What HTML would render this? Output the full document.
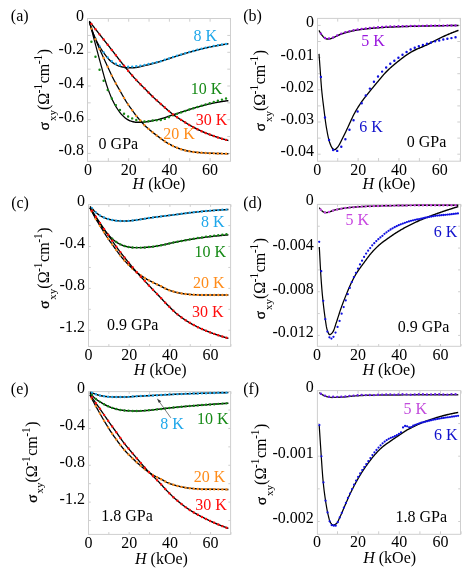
<!DOCTYPE html>
<html lang="en">
<head>
<meta charset="utf-8">
<title>Hall conductivity vs field at several pressures</title>
<style>
html,body{margin:0;padding:0;background:#fff;}
body{width:463px;height:571px;overflow:hidden;}
svg{display:block;will-change:transform;}
</style>
</head>
<body>
<svg width="463" height="571" viewBox="0 0 463 571" font-family="'Liberation Serif', 'DejaVu Serif', serif" font-size="16">
<rect x="87.5" y="18.5" width="143" height="142.8" fill="none" stroke="#cfcfcf" stroke-width="1"/>
<path d="M108.35 161.3v-3.2 M108.35 18.5v3.2M128.7 161.3v-3.2 M128.7 18.5v3.2M149.05 161.3v-3.2 M149.05 18.5v3.2M169.4 161.3v-3.2 M169.4 18.5v3.2M189.75 161.3v-3.2 M189.75 18.5v3.2M210.1 161.3v-3.2 M210.1 18.5v3.2M230.45 161.3v-3.2 M230.45 18.5v3.2M87.5 35.45h3.2 M230.5 35.45h-3.2M87.5 52.3h3.2 M230.5 52.3h-3.2M87.5 69.15h3.2 M230.5 69.15h-3.2M87.5 86h3.2 M230.5 86h-3.2M87.5 102.85h3.2 M230.5 102.85h-3.2M87.5 119.7h3.2 M230.5 119.7h-3.2M87.5 136.55h3.2 M230.5 136.55h-3.2M87.5 153.4h3.2 M230.5 153.4h-3.2" fill="none" stroke="#cfcfcf" stroke-width="1"/>
<text x="88" y="175" fill="#000" font-size="16" text-anchor="middle">0</text>
<text x="128.7" y="175" fill="#000" font-size="16" text-anchor="middle">20</text>
<text x="169.4" y="175" fill="#000" font-size="16" text-anchor="middle">40</text>
<text x="210.1" y="175" fill="#000" font-size="16" text-anchor="middle">60</text>
<text x="83.9" y="20.9" fill="#000" font-size="16" text-anchor="end">0</text>
<text x="83.9" y="54.2" fill="#000" font-size="16" text-anchor="end">-0.2</text>
<text x="83.9" y="87.9" fill="#000" font-size="16" text-anchor="end">-0.4</text>
<text x="83.9" y="121.6" fill="#000" font-size="16" text-anchor="end">-0.6</text>
<text x="83.9" y="155.3" fill="#000" font-size="16" text-anchor="end">-0.8</text>
<text x="159" y="188.8" fill="#000" font-size="16" text-anchor="middle"><tspan font-style="italic">H</tspan> (kOe)</text>
<text transform="translate(48.9 89.5) rotate(-90)" font-size="16" text-anchor="middle" fill="#000"><tspan font-size="15" stroke="#000" stroke-width="0.35">σ</tspan><tspan font-size="11" dy="6.9" dx="1.0">xy</tspan><tspan dy="-6.9">(Ω</tspan><tspan font-size="11.5" dy="-6.6" dx="-0.5">-1</tspan><tspan dy="6.6" dx="0.5">cm</tspan><tspan font-size="11.5" dy="-6.6" dx="-0.5">-1</tspan><tspan dy="6.6" dx="0.5">)</tspan></text>
<path transform="scale(0.84 1)" d="M106.43 21.8 L107.02 23.49 L107.62 25.13 L108.21 26.7 L108.81 28.2 L109.4 29.63 L110 31.04 L110.6 32.4 L111.19 33.73 L111.79 35.02 L112.38 36.25 L112.98 37.44 L113.57 38.58 L114.17 39.66 L114.76 40.71 L115.36 41.71 L115.95 42.68 L116.55 43.62 L117.14 44.52 L117.74 45.41 L118.33 46.26 L118.93 47.1 L119.52 47.9 L120.12 48.68 L120.71 49.44 L121.31 50.18 L121.9 50.9 L122.5 51.61 L123.1 52.32 L123.69 53.02 L124.29 53.72 L124.88 54.42 L125.48 55.1 L126.07 55.77 L126.67 56.42 L127.26 57.05 L127.86 57.65 L128.45 58.23 L129.05 58.79 L129.64 59.35 L130.24 59.89 L130.83 60.41 L131.43 60.91 L132.02 61.36 L132.62 61.78 L133.21 62.14 L133.81 62.5 L134.4 62.84 L135 63.17 L135.6 63.5 L136.19 63.81 L136.79 64.11 L137.38 64.4 L137.98 64.68 L138.57 64.94 L139.17 65.19 L139.76 65.42 L140.36 65.64 L140.95 65.84 L141.55 66.02 L142.14 66.18 L142.74 66.33 L143.33 66.46 L143.93 66.6 L144.52 66.74 L145.12 66.87 L145.71 66.99 L146.31 67.12 L146.9 67.23 L147.5 67.34 L148.1 67.44 L148.69 67.53 L149.29 67.61 L149.88 67.67 L150.48 67.73 L151.07 67.77 L151.67 67.79 L152.26 67.8 L152.86 67.8 L153.45 67.8 L154.05 67.79 L154.64 67.79 L155.24 67.78 L155.83 67.77 L156.43 67.76 L157.02 67.75 L157.62 67.74 L158.21 67.73 L158.81 67.72 L159.4 67.7 L160 67.68 L160.6 67.65 L161.19 67.61 L161.79 67.55 L162.38 67.48 L162.98 67.4 L163.57 67.31 L164.17 67.21 L164.76 67.11 L165.36 66.99 L165.95 66.88 L166.55 66.76 L167.14 66.63 L167.74 66.5 L168.33 66.37 L168.93 66.24 L169.52 66.11 L170.12 65.98 L170.71 65.86 L171.31 65.73 L171.9 65.61 L172.5 65.5 L173.1 65.39 L173.69 65.27 L174.29 65.16 L174.88 65.04 L175.48 64.92 L176.07 64.8 L176.67 64.68 L177.26 64.55 L177.86 64.43 L178.45 64.3 L179.05 64.17 L179.64 64.05 L180.24 63.92 L180.83 63.79 L181.43 63.66 L182.02 63.53 L182.62 63.4 L183.21 63.26 L183.81 63.13 L184.4 63 L185 62.86 L185.6 62.73 L186.19 62.59 L186.79 62.45 L187.38 62.31 L187.98 62.17 L188.57 62.02 L189.17 61.88 L189.76 61.73 L190.36 61.58 L190.95 61.43 L191.55 61.27 L192.14 61.12 L192.74 60.96 L193.33 60.8 L193.93 60.63 L194.52 60.47 L195.12 60.3 L195.71 60.14 L196.31 59.97 L196.9 59.8 L197.5 59.63 L198.1 59.46 L198.69 59.29 L199.29 59.12 L199.88 58.96 L200.48 58.79 L201.07 58.62 L201.67 58.45 L202.26 58.28 L202.86 58.12 L203.45 57.95 L204.05 57.79 L204.64 57.63 L205.24 57.47 L205.83 57.31 L206.43 57.15 L207.02 56.99 L207.62 56.83 L208.21 56.67 L208.81 56.51 L209.4 56.35 L210 56.19 L210.6 56.03 L211.19 55.88 L211.79 55.72 L212.38 55.56 L212.98 55.4 L213.57 55.24 L214.17 55.09 L214.76 54.93 L215.36 54.77 L215.95 54.62 L216.55 54.46 L217.14 54.31 L217.74 54.15 L218.33 54 L218.93 53.85 L219.52 53.7 L220.12 53.54 L220.71 53.39 L221.31 53.24 L221.9 53.1 L222.5 52.95 L223.1 52.8 L223.69 52.66 L224.29 52.51 L224.88 52.37 L225.48 52.23 L226.07 52.09 L226.67 51.95 L227.26 51.81 L227.86 51.67 L228.45 51.53 L229.05 51.39 L229.64 51.25 L230.24 51.11 L230.83 50.97 L231.43 50.83 L232.02 50.7 L232.62 50.56 L233.21 50.42 L233.81 50.29 L234.4 50.15 L235 50.02 L235.6 49.89 L236.19 49.75 L236.79 49.62 L237.38 49.49 L237.98 49.36 L238.57 49.24 L239.17 49.11 L239.76 48.98 L240.36 48.86 L240.95 48.73 L241.55 48.61 L242.14 48.49 L242.74 48.37 L243.33 48.25 L243.93 48.13 L244.52 48.02 L245.12 47.9 L245.71 47.79 L246.31 47.68 L246.9 47.57 L247.5 47.46 L248.1 47.35 L248.69 47.24 L249.29 47.14 L249.88 47.03 L250.48 46.93 L251.07 46.83 L251.67 46.72 L252.26 46.62 L252.86 46.52 L253.45 46.42 L254.05 46.32 L254.64 46.23 L255.24 46.13 L255.83 46.04 L256.43 45.94 L257.02 45.85 L257.62 45.75 L258.21 45.66 L258.81 45.57 L259.4 45.48 L260 45.39 L260.6 45.3 L261.19 45.21 L261.79 45.12 L262.38 45.03 L262.98 44.95 L263.57 44.86 L264.17 44.78 L264.76 44.69 L265.36 44.61 L265.95 44.53 L266.55 44.45 L267.14 44.37 L267.74 44.29 L268.33 44.21 L268.93 44.13 L269.52 44.06 L270.12 43.98 L270.71 43.91 L271.31 43.83 L271.9 43.76" fill="none" stroke="#000" stroke-width="1.45" stroke-linejoin="round" stroke-linecap="butt"/>
<path d="M91.4 28.2h0M95.48 38.76h0M99.56 46.53h0M103.64 52.35h0M107.72 57.42h0M111.8 61.27h0M115.88 63.66h0M119.96 65.25h0M124.04 66.33h0M128.12 66.8h0M132.2 66.62h0M136.28 66.25h0M140.36 65.68h0M144.44 64.89h0M148.52 64.08h0M152.6 63.19h0M156.68 62.24h0M160.76 61.14h0M164.84 59.83h0M168.92 58.42h0M173 57.08h0M177.08 55.78h0M181.16 54.49h0M185.24 53.24h0M189.32 52.05h0M193.4 50.91h0M197.48 49.8h0M201.56 48.74h0M205.64 47.76h0M209.72 46.87h0M213.8 46.05h0M217.88 45.28h0M221.96 44.57h0M226.04 43.91h0" fill="none" stroke="#1fa7ea" stroke-width="2.44" stroke-linecap="round"/>
<path transform="scale(0.84 1)" d="M106.43 21.5 L107.02 23.4 L107.62 25.3 L108.21 27.2 L108.81 29.1 L109.4 30.99 L110 32.89 L110.6 34.78 L111.19 36.66 L111.79 38.55 L112.38 40.43 L112.98 42.32 L113.57 44.21 L114.17 46.1 L114.76 47.99 L115.36 49.88 L115.95 51.76 L116.55 53.64 L117.14 55.51 L117.74 57.37 L118.33 59.22 L118.93 61.05 L119.52 62.88 L120.12 64.69 L120.71 66.51 L121.31 68.34 L121.9 70.18 L122.5 72.01 L123.1 73.83 L123.69 75.63 L124.29 77.41 L124.88 79.15 L125.48 80.86 L126.07 82.53 L126.67 84.14 L127.26 85.7 L127.86 87.19 L128.45 88.65 L129.05 90.05 L129.64 91.41 L130.24 92.73 L130.83 94.01 L131.43 95.24 L132.02 96.45 L132.62 97.62 L133.21 98.75 L133.81 99.84 L134.4 100.89 L135 101.9 L135.6 102.87 L136.19 103.82 L136.79 104.73 L137.38 105.61 L137.98 106.47 L138.57 107.3 L139.17 108.11 L139.76 108.9 L140.36 109.67 L140.95 110.41 L141.55 111.13 L142.14 111.81 L142.74 112.45 L143.33 113.07 L143.93 113.66 L144.52 114.23 L145.12 114.77 L145.71 115.3 L146.31 115.8 L146.9 116.29 L147.5 116.77 L148.1 117.23 L148.69 117.67 L149.29 118.08 L149.88 118.46 L150.48 118.81 L151.07 119.14 L151.67 119.45 L152.26 119.75 L152.86 120.02 L153.45 120.27 L154.05 120.5 L154.64 120.71 L155.24 120.91 L155.83 121.09 L156.43 121.26 L157.02 121.41 L157.62 121.55 L158.21 121.67 L158.81 121.8 L159.4 121.92 L160 122.03 L160.6 122.14 L161.19 122.22 L161.79 122.27 L162.38 122.3 L162.98 122.3 L163.57 122.3 L164.17 122.3 L164.76 122.3 L165.36 122.3 L165.95 122.3 L166.55 122.3 L167.14 122.3 L167.74 122.3 L168.33 122.29 L168.93 122.27 L169.52 122.24 L170.12 122.2 L170.71 122.15 L171.31 122.1 L171.9 122.05 L172.5 122 L173.1 121.95 L173.69 121.88 L174.29 121.82 L174.88 121.74 L175.48 121.67 L176.07 121.58 L176.67 121.5 L177.26 121.42 L177.86 121.33 L178.45 121.25 L179.05 121.16 L179.64 121.07 L180.24 120.97 L180.83 120.88 L181.43 120.78 L182.02 120.69 L182.62 120.59 L183.21 120.48 L183.81 120.38 L184.4 120.27 L185 120.16 L185.6 120.05 L186.19 119.94 L186.79 119.83 L187.38 119.71 L187.98 119.59 L188.57 119.47 L189.17 119.35 L189.76 119.23 L190.36 119.1 L190.95 118.96 L191.55 118.83 L192.14 118.69 L192.74 118.54 L193.33 118.39 L193.93 118.24 L194.52 118.08 L195.12 117.92 L195.71 117.76 L196.31 117.59 L196.9 117.42 L197.5 117.26 L198.1 117.08 L198.69 116.91 L199.29 116.74 L199.88 116.57 L200.48 116.39 L201.07 116.22 L201.67 116.05 L202.26 115.87 L202.86 115.7 L203.45 115.53 L204.05 115.36 L204.64 115.19 L205.24 115.02 L205.83 114.86 L206.43 114.7 L207.02 114.54 L207.62 114.38 L208.21 114.22 L208.81 114.06 L209.4 113.9 L210 113.74 L210.6 113.57 L211.19 113.41 L211.79 113.25 L212.38 113.09 L212.98 112.92 L213.57 112.76 L214.17 112.6 L214.76 112.44 L215.36 112.27 L215.95 112.11 L216.55 111.95 L217.14 111.79 L217.74 111.63 L218.33 111.46 L218.93 111.3 L219.52 111.14 L220.12 110.98 L220.71 110.82 L221.31 110.66 L221.9 110.5 L222.5 110.34 L223.1 110.18 L223.69 110.02 L224.29 109.86 L224.88 109.7 L225.48 109.54 L226.07 109.39 L226.67 109.23 L227.26 109.07 L227.86 108.92 L228.45 108.76 L229.05 108.61 L229.64 108.46 L230.24 108.3 L230.83 108.15 L231.43 108 L232.02 107.85 L232.62 107.7 L233.21 107.55 L233.81 107.41 L234.4 107.26 L235 107.12 L235.6 106.97 L236.19 106.83 L236.79 106.69 L237.38 106.54 L237.98 106.4 L238.57 106.26 L239.17 106.12 L239.76 105.98 L240.36 105.83 L240.95 105.69 L241.55 105.56 L242.14 105.42 L242.74 105.28 L243.33 105.15 L243.93 105.01 L244.52 104.88 L245.12 104.75 L245.71 104.62 L246.31 104.49 L246.9 104.37 L247.5 104.24 L248.1 104.12 L248.69 104.01 L249.29 103.89 L249.88 103.78 L250.48 103.67 L251.07 103.56 L251.67 103.45 L252.26 103.34 L252.86 103.24 L253.45 103.14 L254.05 103.03 L254.64 102.93 L255.24 102.83 L255.83 102.74 L256.43 102.64 L257.02 102.55 L257.62 102.46 L258.21 102.36 L258.81 102.27 L259.4 102.19 L260 102.1 L260.6 102.02 L261.19 101.93 L261.79 101.85 L262.38 101.77 L262.98 101.69 L263.57 101.61 L264.17 101.54 L264.76 101.46 L265.36 101.38 L265.95 101.31 L266.55 101.24 L267.14 101.17 L267.74 101.1 L268.33 101.03 L268.93 100.96 L269.52 100.9 L270.12 100.83 L270.71 100.77 L271.31 100.71 L271.9 100.65" fill="none" stroke="#000" stroke-width="1.45" stroke-linejoin="round" stroke-linecap="butt"/>
<path d="M91.4 41.7h0M95.48 56.73h0M99.56 69.68h0M103.64 80.7h0M107.72 90.04h0M111.8 98.48h0M115.88 105.11h0M119.96 110.07h0M124.04 113.71h0M128.12 116.42h0M132.2 118.39h0M136.28 119.99h0M140.36 121.12h0M144.44 121.49h0M148.52 121.25h0M152.6 120.45h0M156.68 120.2h0M160.76 119.96h0M164.84 118.9h0M168.92 117.13h0M173 115.35h0M177.08 113.86h0M181.16 112.4h0M185.24 110.96h0M189.32 109.58h0M193.4 108.23h0M197.48 106.92h0M201.56 105.66h0M205.64 104.44h0M209.72 103.22h0M213.8 102h0M217.88 100.81h0M221.96 99.65h0M226.04 98.54h0" fill="none" stroke="#168a16" stroke-width="2.44" stroke-linecap="round"/>
<path transform="scale(0.84 1)" d="M106.43 21.8 L107.02 23.61 L107.62 25.37 L108.21 27.04 L108.81 28.6 L109.4 30.06 L110 31.46 L110.6 32.79 L111.19 34.09 L111.79 35.35 L112.38 36.59 L112.98 37.82 L113.57 39.05 L114.17 40.29 L114.76 41.5 L115.36 42.71 L115.95 43.89 L116.55 45.07 L117.14 46.23 L117.74 47.39 L118.33 48.54 L118.93 49.69 L119.52 50.82 L120.12 51.94 L120.71 53.05 L121.31 54.16 L121.9 55.26 L122.5 56.36 L123.1 57.46 L123.69 58.56 L124.29 59.65 L124.88 60.74 L125.48 61.83 L126.07 62.91 L126.67 63.99 L127.26 65.07 L127.86 66.15 L128.45 67.23 L129.05 68.32 L129.64 69.41 L130.24 70.5 L130.83 71.59 L131.43 72.67 L132.02 73.73 L132.62 74.78 L133.21 75.81 L133.81 76.82 L134.4 77.82 L135 78.82 L135.6 79.8 L136.19 80.76 L136.79 81.72 L137.38 82.66 L137.98 83.58 L138.57 84.49 L139.17 85.38 L139.76 86.25 L140.36 87.11 L140.95 87.97 L141.55 88.83 L142.14 89.7 L142.74 90.58 L143.33 91.47 L143.93 92.37 L144.52 93.27 L145.12 94.17 L145.71 95.07 L146.31 95.96 L146.9 96.84 L147.5 97.7 L148.1 98.55 L148.69 99.39 L149.29 100.23 L149.88 101.05 L150.48 101.86 L151.07 102.66 L151.67 103.44 L152.26 104.2 L152.86 104.94 L153.45 105.65 L154.05 106.35 L154.64 107.04 L155.24 107.71 L155.83 108.39 L156.43 109.07 L157.02 109.76 L157.62 110.46 L158.21 111.18 L158.81 111.9 L159.4 112.62 L160 113.33 L160.6 114.03 L161.19 114.71 L161.79 115.37 L162.38 116 L162.98 116.62 L163.57 117.22 L164.17 117.8 L164.76 118.38 L165.36 118.95 L165.95 119.51 L166.55 120.08 L167.14 120.64 L167.74 121.2 L168.33 121.77 L168.93 122.34 L169.52 122.91 L170.12 123.47 L170.71 124.02 L171.31 124.57 L171.9 125.09 L172.5 125.6 L173.1 126.09 L173.69 126.56 L174.29 127.02 L174.88 127.47 L175.48 127.91 L176.07 128.35 L176.67 128.78 L177.26 129.21 L177.86 129.64 L178.45 130.07 L179.05 130.49 L179.64 130.9 L180.24 131.31 L180.83 131.72 L181.43 132.12 L182.02 132.52 L182.62 132.92 L183.21 133.31 L183.81 133.7 L184.4 134.08 L185 134.46 L185.6 134.84 L186.19 135.22 L186.79 135.59 L187.38 135.96 L187.98 136.33 L188.57 136.69 L189.17 137.06 L189.76 137.44 L190.36 137.81 L190.95 138.18 L191.55 138.56 L192.14 138.93 L192.74 139.3 L193.33 139.67 L193.93 140.03 L194.52 140.39 L195.12 140.74 L195.71 141.09 L196.31 141.44 L196.9 141.77 L197.5 142.1 L198.1 142.42 L198.69 142.73 L199.29 143.03 L199.88 143.31 L200.48 143.6 L201.07 143.88 L201.67 144.16 L202.26 144.43 L202.86 144.7 L203.45 144.96 L204.05 145.22 L204.64 145.48 L205.24 145.73 L205.83 145.97 L206.43 146.21 L207.02 146.45 L207.62 146.67 L208.21 146.9 L208.81 147.11 L209.4 147.32 L210 147.52 L210.6 147.71 L211.19 147.9 L211.79 148.08 L212.38 148.26 L212.98 148.44 L213.57 148.61 L214.17 148.78 L214.76 148.95 L215.36 149.12 L215.95 149.28 L216.55 149.44 L217.14 149.6 L217.74 149.75 L218.33 149.9 L218.93 150.04 L219.52 150.18 L220.12 150.32 L220.71 150.45 L221.31 150.58 L221.9 150.7 L222.5 150.81 L223.1 150.92 L223.69 151.03 L224.29 151.13 L224.88 151.22 L225.48 151.31 L226.07 151.39 L226.67 151.48 L227.26 151.56 L227.86 151.64 L228.45 151.72 L229.05 151.79 L229.64 151.86 L230.24 151.93 L230.83 152 L231.43 152.06 L232.02 152.13 L232.62 152.19 L233.21 152.24 L233.81 152.3 L234.4 152.35 L235 152.4 L235.6 152.45 L236.19 152.49 L236.79 152.53 L237.38 152.58 L237.98 152.62 L238.57 152.66 L239.17 152.69 L239.76 152.73 L240.36 152.77 L240.95 152.8 L241.55 152.84 L242.14 152.87 L242.74 152.9 L243.33 152.93 L243.93 152.96 L244.52 152.99 L245.12 153.02 L245.71 153.05 L246.31 153.07 L246.9 153.1 L247.5 153.12 L248.1 153.14 L248.69 153.16 L249.29 153.18 L249.88 153.2 L250.48 153.22 L251.07 153.24 L251.67 153.26 L252.26 153.28 L252.86 153.3 L253.45 153.32 L254.05 153.34 L254.64 153.35 L255.24 153.37 L255.83 153.39 L256.43 153.41 L257.02 153.42 L257.62 153.44 L258.21 153.46 L258.81 153.47 L259.4 153.49 L260 153.5 L260.6 153.52 L261.19 153.53 L261.79 153.55 L262.38 153.56 L262.98 153.58 L263.57 153.59 L264.17 153.6 L264.76 153.61 L265.36 153.62 L265.95 153.63 L266.55 153.64 L267.14 153.65 L267.74 153.66 L268.33 153.67 L268.93 153.67 L269.52 153.68 L270.12 153.69 L270.71 153.69 L271.31 153.7 L271.9 153.7" fill="none" stroke="#000" stroke-width="1.45" stroke-linejoin="round" stroke-linecap="butt"/>
<path d="M91.4 28.6h0M95.48 39.25h0M99.56 48.91h0M103.64 57.99h0M107.72 66.84h0M111.8 75.6h0M115.88 83.55h0M119.96 90.68h0M124.04 97.94h0M128.12 104.53h0M132.2 110.18h0M136.28 115.85h0M140.36 120.59h0M144.44 125.13h0M148.52 128.89h0M152.6 132.28h0M156.68 135.42h0M160.76 138.45h0M164.84 141.4h0M168.92 143.89h0M173 146.02h0M177.08 147.78h0M181.16 149.21h0M185.24 150.41h0M189.32 151.29h0M193.4 151.93h0M197.48 152.41h0M201.56 152.74h0M205.64 153h0M209.72 153.2h0M213.8 153.35h0M217.88 153.49h0M221.96 153.6h0M226.04 153.68h0" fill="none" stroke="#ff8c1a" stroke-width="2.44" stroke-linecap="round"/>
<path transform="scale(0.84 1)" d="M106.43 21.3 L107.02 21.95 L107.62 22.6 L108.21 23.25 L108.81 23.9 L109.4 24.55 L110 25.19 L110.6 25.83 L111.19 26.48 L111.79 27.12 L112.38 27.76 L112.98 28.4 L113.57 29.04 L114.17 29.68 L114.76 30.32 L115.36 30.95 L115.95 31.59 L116.55 32.23 L117.14 32.87 L117.74 33.51 L118.33 34.14 L118.93 34.78 L119.52 35.42 L120.12 36.06 L120.71 36.69 L121.31 37.33 L121.9 37.96 L122.5 38.6 L123.1 39.23 L123.69 39.87 L124.29 40.5 L124.88 41.14 L125.48 41.77 L126.07 42.41 L126.67 43.04 L127.26 43.68 L127.86 44.31 L128.45 44.95 L129.05 45.58 L129.64 46.22 L130.24 46.86 L130.83 47.5 L131.43 48.13 L132.02 48.77 L132.62 49.42 L133.21 50.06 L133.81 50.7 L134.4 51.35 L135 52 L135.6 52.65 L136.19 53.31 L136.79 53.97 L137.38 54.63 L137.98 55.28 L138.57 55.94 L139.17 56.6 L139.76 57.26 L140.36 57.92 L140.95 58.58 L141.55 59.23 L142.14 59.88 L142.74 60.53 L143.33 61.18 L143.93 61.83 L144.52 62.47 L145.12 63.1 L145.71 63.74 L146.31 64.36 L146.9 64.98 L147.5 65.6 L148.1 66.21 L148.69 66.82 L149.29 67.43 L149.88 68.04 L150.48 68.64 L151.07 69.25 L151.67 69.85 L152.26 70.45 L152.86 71.04 L153.45 71.63 L154.05 72.23 L154.64 72.81 L155.24 73.4 L155.83 73.98 L156.43 74.56 L157.02 75.14 L157.62 75.71 L158.21 76.28 L158.81 76.85 L159.4 77.41 L160 77.97 L160.6 78.52 L161.19 79.08 L161.79 79.62 L162.38 80.17 L162.98 80.71 L163.57 81.24 L164.17 81.77 L164.76 82.29 L165.36 82.8 L165.95 83.31 L166.55 83.82 L167.14 84.32 L167.74 84.82 L168.33 85.32 L168.93 85.82 L169.52 86.31 L170.12 86.81 L170.71 87.3 L171.31 87.8 L171.9 88.3 L172.5 88.8 L173.1 89.3 L173.69 89.81 L174.29 90.32 L174.88 90.83 L175.48 91.33 L176.07 91.84 L176.67 92.35 L177.26 92.86 L177.86 93.36 L178.45 93.86 L179.05 94.36 L179.64 94.86 L180.24 95.35 L180.83 95.84 L181.43 96.33 L182.02 96.8 L182.62 97.28 L183.21 97.75 L183.81 98.21 L184.4 98.68 L185 99.13 L185.6 99.59 L186.19 100.04 L186.79 100.49 L187.38 100.94 L187.98 101.39 L188.57 101.83 L189.17 102.28 L189.76 102.72 L190.36 103.16 L190.95 103.6 L191.55 104.04 L192.14 104.49 L192.74 104.93 L193.33 105.38 L193.93 105.82 L194.52 106.27 L195.12 106.72 L195.71 107.16 L196.31 107.61 L196.9 108.06 L197.5 108.5 L198.1 108.94 L198.69 109.38 L199.29 109.81 L199.88 110.25 L200.48 110.68 L201.07 111.1 L201.67 111.53 L202.26 111.94 L202.86 112.35 L203.45 112.76 L204.05 113.16 L204.64 113.56 L205.24 113.94 L205.83 114.33 L206.43 114.7 L207.02 115.07 L207.62 115.43 L208.21 115.78 L208.81 116.13 L209.4 116.47 L210 116.81 L210.6 117.15 L211.19 117.48 L211.79 117.8 L212.38 118.13 L212.98 118.45 L213.57 118.77 L214.17 119.09 L214.76 119.4 L215.36 119.72 L215.95 120.03 L216.55 120.35 L217.14 120.66 L217.74 120.98 L218.33 121.29 L218.93 121.61 L219.52 121.92 L220.12 122.24 L220.71 122.55 L221.31 122.86 L221.9 123.17 L222.5 123.48 L223.1 123.79 L223.69 124.09 L224.29 124.39 L224.88 124.69 L225.48 124.99 L226.07 125.28 L226.67 125.57 L227.26 125.86 L227.86 126.14 L228.45 126.41 L229.05 126.69 L229.64 126.95 L230.24 127.22 L230.83 127.48 L231.43 127.74 L232.02 128 L232.62 128.25 L233.21 128.51 L233.81 128.76 L234.4 129.01 L235 129.25 L235.6 129.5 L236.19 129.74 L236.79 129.98 L237.38 130.21 L237.98 130.45 L238.57 130.68 L239.17 130.91 L239.76 131.14 L240.36 131.36 L240.95 131.58 L241.55 131.8 L242.14 132.02 L242.74 132.24 L243.33 132.45 L243.93 132.66 L244.52 132.87 L245.12 133.07 L245.71 133.27 L246.31 133.48 L246.9 133.68 L247.5 133.87 L248.1 134.07 L248.69 134.26 L249.29 134.45 L249.88 134.64 L250.48 134.83 L251.07 135.01 L251.67 135.2 L252.26 135.38 L252.86 135.56 L253.45 135.74 L254.05 135.91 L254.64 136.09 L255.24 136.26 L255.83 136.43 L256.43 136.6 L257.02 136.77 L257.62 136.93 L258.21 137.1 L258.81 137.26 L259.4 137.42 L260 137.58 L260.6 137.74 L261.19 137.9 L261.79 138.06 L262.38 138.21 L262.98 138.37 L263.57 138.52 L264.17 138.67 L264.76 138.82 L265.36 138.97 L265.95 139.12 L266.55 139.26 L267.14 139.41 L267.74 139.55 L268.33 139.69 L268.93 139.83 L269.52 139.96 L270.12 140.1 L270.71 140.23 L271.31 140.37 L271.9 140.5" fill="none" stroke="#000" stroke-width="1.45" stroke-linejoin="round" stroke-linecap="butt"/>
<path d="M91.4 23.9h0M95.48 29.14h0M99.56 34.35h0M103.64 39.54h0M107.72 44.72h0M111.8 49.93h0M115.88 55.26h0M119.96 60.61h0M124.04 65.77h0M128.12 70.71h0M132.2 75.48h0M136.28 80.04h0M140.36 84.28h0M144.44 88.34h0M148.52 92.47h0M152.6 96.52h0M156.68 100.3h0M160.76 103.92h0M164.84 107.56h0M168.92 111.12h0M173 114.4h0M177.08 117.27h0M181.16 119.88h0M185.24 122.45h0M189.32 124.94h0M193.4 127.22h0M197.48 129.29h0M201.56 131.21h0M205.64 132.96h0M209.72 134.57h0M213.8 136.05h0M217.88 137.42h0M221.96 138.69h0M226.04 139.87h0" fill="none" stroke="#ff0d0d" stroke-width="2.44" stroke-linecap="round"/>
<text x="98.6" y="148.9" fill="#000" font-size="16" text-anchor="start">0 GPa</text>
<text x="193.6" y="40.6" fill="#1fa7ea" font-size="16" text-anchor="start">8 K</text>
<text x="190.8" y="93.7" fill="#168a16" font-size="16" text-anchor="start">10 K</text>
<text x="195.8" y="125.1" fill="#ff0d0d" font-size="16" text-anchor="start">30 K</text>
<text x="163.3" y="139" fill="#ff8c1a" font-size="16" text-anchor="start">20 K</text>
<text x="10.8" y="21" fill="#000" font-size="16" text-anchor="start">(a)</text>
<rect x="317.5" y="18.4" width="143" height="142.8" fill="none" stroke="#cfcfcf" stroke-width="1"/>
<path d="M337.72 161.2v-3.2 M337.72 18.4v3.2M358.14 161.2v-3.2 M358.14 18.4v3.2M378.56 161.2v-3.2 M378.56 18.4v3.2M398.98 161.2v-3.2 M398.98 18.4v3.2M419.4 161.2v-3.2 M419.4 18.4v3.2M439.82 161.2v-3.2 M439.82 18.4v3.2M460.24 161.2v-3.2 M460.24 18.4v3.2M317.5 25.4h3.2 M460.5 25.4h-3.2M317.5 41.5h3.2 M460.5 41.5h-3.2M317.5 57.6h3.2 M460.5 57.6h-3.2M317.5 73.7h3.2 M460.5 73.7h-3.2M317.5 89.8h3.2 M460.5 89.8h-3.2M317.5 105.9h3.2 M460.5 105.9h-3.2M317.5 122h3.2 M460.5 122h-3.2M317.5 138.1h3.2 M460.5 138.1h-3.2M317.5 154.2h3.2 M460.5 154.2h-3.2" fill="none" stroke="#cfcfcf" stroke-width="1"/>
<text x="317.3" y="174.9" fill="#000" font-size="16" text-anchor="middle">0</text>
<text x="358.14" y="174.9" fill="#000" font-size="16" text-anchor="middle">20</text>
<text x="398.98" y="174.9" fill="#000" font-size="16" text-anchor="middle">40</text>
<text x="439.82" y="174.9" fill="#000" font-size="16" text-anchor="middle">60</text>
<text x="313.9" y="27.3" fill="#000" font-size="16" text-anchor="end">0</text>
<text x="313.9" y="59.5" fill="#000" font-size="16" text-anchor="end">-0.01</text>
<text x="313.9" y="91.7" fill="#000" font-size="16" text-anchor="end">-0.02</text>
<text x="313.9" y="123.9" fill="#000" font-size="16" text-anchor="end">-0.03</text>
<text x="313.9" y="156.1" fill="#000" font-size="16" text-anchor="end">-0.04</text>
<text x="389" y="188.7" fill="#000" font-size="16" text-anchor="middle"><tspan font-style="italic">H</tspan> (kOe)</text>
<text transform="translate(265 90.5) rotate(-90)" font-size="16" text-anchor="middle" fill="#000"><tspan font-size="15" stroke="#000" stroke-width="0.35">σ</tspan><tspan font-size="11" dy="6.9" dx="1.0">xy</tspan><tspan dy="-6.9">(Ω</tspan><tspan font-size="11.5" dy="-6.6" dx="-0.5">-1</tspan><tspan dy="6.6" dx="0.5">cm</tspan><tspan font-size="11.5" dy="-6.6" dx="-0.5">-1</tspan><tspan dy="6.6" dx="0.5">)</tspan></text>
<path transform="scale(0.84 1)" d="M379.76 30.4 L380.36 31.33 L380.95 32.22 L381.55 33.05 L382.14 33.8 L382.74 34.51 L383.33 35.21 L383.93 35.86 L384.52 36.46 L385.12 36.98 L385.71 37.4 L386.31 37.77 L386.9 38.12 L387.5 38.45 L388.1 38.72 L388.69 38.91 L389.29 39 L389.88 39 L390.48 38.98 L391.07 38.96 L391.67 38.93 L392.26 38.9 L392.86 38.83 L393.45 38.7 L394.05 38.53 L394.64 38.33 L395.24 38.12 L395.83 37.92 L396.43 37.72 L397.02 37.53 L397.62 37.32 L398.21 37.1 L398.81 36.87 L399.4 36.64 L400 36.4 L400.6 36.16 L401.19 35.92 L401.79 35.68 L402.38 35.44 L402.98 35.21 L403.57 34.98 L404.17 34.76 L404.76 34.55 L405.36 34.35 L405.95 34.16 L406.55 33.98 L407.14 33.81 L407.74 33.63 L408.33 33.46 L408.93 33.29 L409.52 33.13 L410.12 32.97 L410.71 32.81 L411.31 32.66 L411.9 32.51 L412.5 32.37 L413.1 32.22 L413.69 32.09 L414.29 31.95 L414.88 31.82 L415.48 31.7 L416.07 31.58 L416.67 31.46 L417.26 31.34 L417.86 31.23 L418.45 31.11 L419.05 31 L419.64 30.9 L420.24 30.79 L420.83 30.69 L421.43 30.59 L422.02 30.49 L422.62 30.39 L423.21 30.3 L423.81 30.21 L424.4 30.13 L425 30.04 L425.6 29.96 L426.19 29.88 L426.79 29.81 L427.38 29.74 L427.98 29.67 L428.57 29.6 L429.17 29.53 L429.76 29.46 L430.36 29.4 L430.95 29.34 L431.55 29.28 L432.14 29.22 L432.74 29.16 L433.33 29.1 L433.93 29.05 L434.52 28.99 L435.12 28.94 L435.71 28.88 L436.31 28.83 L436.9 28.78 L437.5 28.73 L438.1 28.68 L438.69 28.62 L439.29 28.57 L439.88 28.52 L440.48 28.47 L441.07 28.42 L441.67 28.37 L442.26 28.33 L442.86 28.28 L443.45 28.23 L444.05 28.19 L444.64 28.14 L445.24 28.1 L445.83 28.05 L446.43 28.01 L447.02 27.97 L447.62 27.93 L448.21 27.89 L448.81 27.85 L449.4 27.81 L450 27.77 L450.6 27.74 L451.19 27.7 L451.79 27.67 L452.38 27.63 L452.98 27.6 L453.57 27.57 L454.17 27.53 L454.76 27.5 L455.36 27.47 L455.95 27.44 L456.55 27.41 L457.14 27.38 L457.74 27.35 L458.33 27.32 L458.93 27.3 L459.52 27.27 L460.12 27.24 L460.71 27.22 L461.31 27.19 L461.9 27.17 L462.5 27.14 L463.1 27.12 L463.69 27.1 L464.29 27.08 L464.88 27.06 L465.48 27.04 L466.07 27.01 L466.67 26.99 L467.26 26.97 L467.86 26.95 L468.45 26.93 L469.05 26.91 L469.64 26.89 L470.24 26.87 L470.83 26.85 L471.43 26.83 L472.02 26.81 L472.62 26.8 L473.21 26.78 L473.81 26.76 L474.4 26.74 L475 26.72 L475.6 26.7 L476.19 26.68 L476.79 26.67 L477.38 26.65 L477.98 26.63 L478.57 26.61 L479.17 26.6 L479.76 26.58 L480.36 26.56 L480.95 26.55 L481.55 26.53 L482.14 26.51 L482.74 26.5 L483.33 26.48 L483.93 26.47 L484.52 26.45 L485.12 26.44 L485.71 26.42 L486.31 26.41 L486.9 26.39 L487.5 26.38 L488.1 26.36 L488.69 26.35 L489.29 26.33 L489.88 26.32 L490.48 26.3 L491.07 26.29 L491.67 26.28 L492.26 26.26 L492.86 26.25 L493.45 26.24 L494.05 26.23 L494.64 26.21 L495.24 26.2 L495.83 26.19 L496.43 26.18 L497.02 26.17 L497.62 26.15 L498.21 26.14 L498.81 26.13 L499.4 26.12 L500 26.11 L500.6 26.1 L501.19 26.09 L501.79 26.08 L502.38 26.07 L502.98 26.06 L503.57 26.04 L504.17 26.03 L504.76 26.02 L505.36 26.01 L505.95 26 L506.55 25.99 L507.14 25.98 L507.74 25.97 L508.33 25.96 L508.93 25.95 L509.52 25.94 L510.12 25.93 L510.71 25.92 L511.31 25.91 L511.9 25.9 L512.5 25.89 L513.1 25.88 L513.69 25.87 L514.29 25.86 L514.88 25.85 L515.48 25.84 L516.07 25.83 L516.67 25.83 L517.26 25.82 L517.86 25.81 L518.45 25.8 L519.05 25.79 L519.64 25.78 L520.24 25.77 L520.83 25.76 L521.43 25.75 L522.02 25.75 L522.62 25.74 L523.21 25.73 L523.81 25.72 L524.4 25.71 L525 25.7 L525.6 25.7 L526.19 25.69 L526.79 25.68 L527.38 25.67 L527.98 25.67 L528.57 25.66 L529.17 25.65 L529.76 25.64 L530.36 25.64 L530.95 25.63 L531.55 25.62 L532.14 25.62 L532.74 25.61 L533.33 25.6 L533.93 25.6 L534.52 25.59 L535.12 25.58 L535.71 25.58 L536.31 25.57 L536.9 25.57 L537.5 25.56 L538.1 25.56 L538.69 25.55 L539.29 25.55 L539.88 25.54 L540.48 25.54 L541.07 25.53 L541.67 25.53 L542.26 25.52 L542.86 25.52 L543.45 25.52 L544.05 25.51 L544.64 25.51 L545.24 25.5 L545.83 25.5" fill="none" stroke="#000" stroke-width="1.45" stroke-linejoin="round" stroke-linecap="butt"/>
<path transform="scale(0.84 1)" d="M379.76 53.9 L380.36 60.55 L380.95 67.28 L381.55 74.27 L382.14 81.59 L382.74 88 L383.33 93.15 L383.93 97.72 L384.52 101.92 L385.12 105.91 L385.71 109.91 L386.31 113.94 L386.9 117.9 L387.5 121.65 L388.1 125.07 L388.69 128.05 L389.29 130.88 L389.88 133.57 L390.48 136.08 L391.07 138.36 L391.67 140.35 L392.26 142.01 L392.86 143.4 L393.45 144.7 L394.05 145.88 L394.64 146.92 L395.24 147.78 L395.83 148.43 L396.43 148.85 L397.02 149.2 L397.62 149.47 L398.21 149.6 L398.81 149.53 L399.4 149.28 L400 148.88 L400.6 148.37 L401.19 147.81 L401.79 147.23 L402.38 146.64 L402.98 145.94 L403.57 145.13 L404.17 144.24 L404.76 143.3 L405.36 142.33 L405.95 141.35 L406.55 140.4 L407.14 139.45 L407.74 138.48 L408.33 137.49 L408.93 136.48 L409.52 135.46 L410.12 134.42 L410.71 133.38 L411.31 132.34 L411.9 131.29 L412.5 130.23 L413.1 129.16 L413.69 128.08 L414.29 126.99 L414.88 125.89 L415.48 124.8 L416.07 123.71 L416.67 122.63 L417.26 121.55 L417.86 120.47 L418.45 119.38 L419.05 118.29 L419.64 117.23 L420.24 116.19 L420.83 115.2 L421.43 114.24 L422.02 113.31 L422.62 112.39 L423.21 111.5 L423.81 110.62 L424.4 109.76 L425 108.92 L425.6 108.09 L426.19 107.28 L426.79 106.48 L427.38 105.7 L427.98 104.93 L428.57 104.17 L429.17 103.43 L429.76 102.7 L430.36 101.99 L430.95 101.28 L431.55 100.58 L432.14 99.9 L432.74 99.23 L433.33 98.57 L433.93 97.92 L434.52 97.28 L435.12 96.64 L435.71 96.01 L436.31 95.38 L436.9 94.75 L437.5 94.13 L438.1 93.5 L438.69 92.88 L439.29 92.26 L439.88 91.64 L440.48 91.03 L441.07 90.42 L441.67 89.82 L442.26 89.21 L442.86 88.61 L443.45 88 L444.05 87.39 L444.64 86.79 L445.24 86.19 L445.83 85.58 L446.43 84.98 L447.02 84.38 L447.62 83.78 L448.21 83.18 L448.81 82.58 L449.4 81.99 L450 81.39 L450.6 80.79 L451.19 80.2 L451.79 79.6 L452.38 79 L452.98 78.39 L453.57 77.79 L454.17 77.18 L454.76 76.58 L455.36 75.99 L455.95 75.4 L456.55 74.82 L457.14 74.26 L457.74 73.71 L458.33 73.17 L458.93 72.65 L459.52 72.13 L460.12 71.62 L460.71 71.12 L461.31 70.63 L461.9 70.14 L462.5 69.66 L463.1 69.18 L463.69 68.71 L464.29 68.25 L464.88 67.79 L465.48 67.33 L466.07 66.88 L466.67 66.44 L467.26 66 L467.86 65.57 L468.45 65.14 L469.05 64.72 L469.64 64.3 L470.24 63.88 L470.83 63.47 L471.43 63.07 L472.02 62.67 L472.62 62.27 L473.21 61.87 L473.81 61.48 L474.4 61.08 L475 60.68 L475.6 60.28 L476.19 59.88 L476.79 59.49 L477.38 59.09 L477.98 58.7 L478.57 58.31 L479.17 57.93 L479.76 57.55 L480.36 57.18 L480.95 56.81 L481.55 56.45 L482.14 56.09 L482.74 55.73 L483.33 55.38 L483.93 55.04 L484.52 54.7 L485.12 54.36 L485.71 54.03 L486.31 53.71 L486.9 53.39 L487.5 53.08 L488.1 52.76 L488.69 52.46 L489.29 52.16 L489.88 51.86 L490.48 51.58 L491.07 51.3 L491.67 51.03 L492.26 50.76 L492.86 50.5 L493.45 50.25 L494.05 49.99 L494.64 49.75 L495.24 49.51 L495.83 49.28 L496.43 49.05 L497.02 48.82 L497.62 48.61 L498.21 48.4 L498.81 48.2 L499.4 48 L500 47.8 L500.6 47.6 L501.19 47.41 L501.79 47.2 L502.38 47 L502.98 46.79 L503.57 46.57 L504.17 46.35 L504.76 46.12 L505.36 45.89 L505.95 45.66 L506.55 45.43 L507.14 45.2 L507.74 44.96 L508.33 44.72 L508.93 44.48 L509.52 44.24 L510.12 43.99 L510.71 43.75 L511.31 43.5 L511.9 43.25 L512.5 42.99 L513.1 42.72 L513.69 42.46 L514.29 42.19 L514.88 41.93 L515.48 41.66 L516.07 41.4 L516.67 41.15 L517.26 40.9 L517.86 40.65 L518.45 40.41 L519.05 40.16 L519.64 39.92 L520.24 39.68 L520.83 39.44 L521.43 39.19 L522.02 38.95 L522.62 38.7 L523.21 38.45 L523.81 38.2 L524.4 37.94 L525 37.69 L525.6 37.43 L526.19 37.18 L526.79 36.94 L527.38 36.69 L527.98 36.46 L528.57 36.23 L529.17 36 L529.76 35.77 L530.36 35.55 L530.95 35.33 L531.55 35.11 L532.14 34.89 L532.74 34.67 L533.33 34.46 L533.93 34.24 L534.52 34.03 L535.12 33.82 L535.71 33.61 L536.31 33.41 L536.9 33.2 L537.5 33 L538.1 32.8 L538.69 32.6 L539.29 32.4 L539.88 32.21 L540.48 32.01 L541.07 31.82 L541.67 31.63 L542.26 31.44 L542.86 31.25 L543.45 31.06 L544.05 30.88 L544.64 30.7 L545.24 30.52 L545.83 30.34" fill="none" stroke="#000" stroke-width="1.45" stroke-linejoin="round" stroke-linecap="butt"/>
<path d="M320.9 33.6h0M324.98 37.91h0M329.06 38.58h0M333.14 37.39h0M337.22 35.53h0M341.3 33.65h0M345.38 32.29h0M349.46 31.19h0M353.54 30.29h0M357.62 29.55h0M361.7 28.93h0M365.78 28.41h0M369.86 27.98h0M373.94 27.6h0M378.02 27.27h0M382.1 26.99h0M386.18 26.75h0M390.26 26.57h0M394.34 26.44h0M398.42 26.33h0M402.5 26.23h0M406.58 26.14h0M410.66 26.06h0M414.74 25.99h0M418.82 25.92h0M422.9 25.86h0M426.98 25.81h0M431.06 25.75h0M435.14 25.7h0M439.22 25.65h0M443.3 25.61h0M447.38 25.57h0M451.46 25.54h0M455.54 25.51h0" fill="none" stroke="#9a18de" stroke-width="2.44" stroke-linecap="round"/>
<path d="M320.9 76.9h0M324.98 117.46h0M329.06 140.06h0M333.14 150.02h0M337.22 150.9h0M341.3 146.73h0M345.38 139.25h0M349.46 129.69h0M353.54 120.23h0M357.62 111.58h0M361.7 103.19h0M365.78 95.39h0M369.86 88.6h0M373.94 81.84h0M378.02 76.42h0M382.1 71.61h0M386.18 67.42h0M390.26 63.71h0M394.34 60.82h0M398.42 57.76h0M402.5 54.77h0M406.58 51.91h0M410.66 49.52h0M414.74 47.68h0M418.82 46.29h0M422.9 44.97h0M426.98 43.78h0M431.06 42.45h0M435.14 41.36h0M439.22 40.43h0M443.3 39.52h0M447.38 38.79h0M451.46 38.1h0M455.54 37.28h0" fill="none" stroke="#1010e0" stroke-width="2.44" stroke-linecap="round"/>
<text x="361.2" y="45.5" fill="#9a18de" font-size="16" text-anchor="start">5 K</text>
<text x="359.2" y="131.7" fill="#1212cc" font-size="16" text-anchor="start">6 K</text>
<text x="406.8" y="146.7" fill="#000" font-size="16" text-anchor="start">0 GPa</text>
<text x="243.2" y="21.2" fill="#000" font-size="16" text-anchor="start">(b)</text>
<rect x="88.5" y="204.6" width="142.1" height="141.8" fill="none" stroke="#cfcfcf" stroke-width="1"/>
<path d="M108.85 346.4v-2.3 M108.85 204.6v2.3M129.2 346.4v-2.3 M129.2 204.6v2.3M149.55 346.4v-2.3 M149.55 204.6v2.3M169.9 346.4v-2.3 M169.9 204.6v2.3M190.25 346.4v-2.3 M190.25 204.6v2.3M210.6 346.4v-2.3 M210.6 204.6v2.3M230.95 346.4v-2.3 M230.95 204.6v2.3M88.5 225.62h2.3 M230.6 225.62h-2.3M88.5 246.54h2.3 M230.6 246.54h-2.3M88.5 267.46h2.3 M230.6 267.46h-2.3M88.5 288.38h2.3 M230.6 288.38h-2.3M88.5 309.3h2.3 M230.6 309.3h-2.3M88.5 330.22h2.3 M230.6 330.22h-2.3" fill="none" stroke="#cfcfcf" stroke-width="1"/>
<text x="88.5" y="360.1" fill="#000" font-size="16" text-anchor="middle">0</text>
<text x="129.2" y="360.1" fill="#000" font-size="16" text-anchor="middle">20</text>
<text x="169.9" y="360.1" fill="#000" font-size="16" text-anchor="middle">40</text>
<text x="210.6" y="360.1" fill="#000" font-size="16" text-anchor="middle">60</text>
<text x="84.9" y="206.3" fill="#000" font-size="16" text-anchor="end">0</text>
<text x="84.9" y="248.44" fill="#000" font-size="16" text-anchor="end">-0.4</text>
<text x="84.9" y="290.28" fill="#000" font-size="16" text-anchor="end">-0.8</text>
<text x="84.9" y="332.12" fill="#000" font-size="16" text-anchor="end">-1.2</text>
<text x="160.25" y="374.7" fill="#000" font-size="16" text-anchor="middle"><tspan font-style="italic">H</tspan> (kOe)</text>
<text transform="translate(49 268.1) rotate(-90)" font-size="16" text-anchor="middle" fill="#000"><tspan font-size="15" stroke="#000" stroke-width="0.35">σ</tspan><tspan font-size="11" dy="6.9" dx="1.0">xy</tspan><tspan dy="-6.9">(Ω</tspan><tspan font-size="11.5" dy="-6.6" dx="-0.5">-1</tspan><tspan dy="6.6" dx="0.5">cm</tspan><tspan font-size="11.5" dy="-6.6" dx="-0.5">-1</tspan><tspan dy="6.6" dx="0.5">)</tspan></text>
<path transform="scale(0.84 1)" d="M107.02 206.5 L107.62 206.89 L108.21 207.3 L108.81 207.74 L109.4 208.2 L110 208.71 L110.6 209.28 L111.19 209.87 L111.79 210.46 L112.38 211.01 L112.98 211.48 L113.57 211.94 L114.17 212.38 L114.76 212.81 L115.36 213.23 L115.95 213.64 L116.55 214.03 L117.14 214.41 L117.74 214.78 L118.33 215.12 L118.93 215.45 L119.52 215.75 L120.12 216.04 L120.71 216.3 L121.31 216.56 L121.9 216.81 L122.5 217.05 L123.1 217.29 L123.69 217.51 L124.29 217.73 L124.88 217.94 L125.48 218.15 L126.07 218.34 L126.67 218.53 L127.26 218.7 L127.86 218.87 L128.45 219.02 L129.05 219.17 L129.64 219.3 L130.24 219.42 L130.83 219.54 L131.43 219.66 L132.02 219.77 L132.62 219.88 L133.21 219.99 L133.81 220.09 L134.4 220.19 L135 220.28 L135.6 220.37 L136.19 220.45 L136.79 220.53 L137.38 220.59 L137.98 220.66 L138.57 220.71 L139.17 220.76 L139.76 220.8 L140.36 220.84 L140.95 220.87 L141.55 220.9 L142.14 220.94 L142.74 220.97 L143.33 220.99 L143.93 221.02 L144.52 221.04 L145.12 221.06 L145.71 221.08 L146.31 221.09 L146.9 221.1 L147.5 221.1 L148.1 221.1 L148.69 221.09 L149.29 221.07 L149.88 221.06 L150.48 221.03 L151.07 221 L151.67 220.97 L152.26 220.94 L152.86 220.9 L153.45 220.86 L154.05 220.81 L154.64 220.77 L155.24 220.72 L155.83 220.67 L156.43 220.62 L157.02 220.57 L157.62 220.52 L158.21 220.47 L158.81 220.42 L159.4 220.37 L160 220.31 L160.6 220.25 L161.19 220.19 L161.79 220.12 L162.38 220.05 L162.98 219.97 L163.57 219.9 L164.17 219.82 L164.76 219.74 L165.36 219.65 L165.95 219.57 L166.55 219.49 L167.14 219.41 L167.74 219.33 L168.33 219.25 L168.93 219.17 L169.52 219.09 L170.12 219.01 L170.71 218.93 L171.31 218.85 L171.9 218.77 L172.5 218.68 L173.1 218.6 L173.69 218.52 L174.29 218.43 L174.88 218.35 L175.48 218.27 L176.07 218.19 L176.67 218.11 L177.26 218.04 L177.86 217.96 L178.45 217.89 L179.05 217.81 L179.64 217.74 L180.24 217.67 L180.83 217.6 L181.43 217.53 L182.02 217.46 L182.62 217.4 L183.21 217.33 L183.81 217.26 L184.4 217.2 L185 217.13 L185.6 217.06 L186.19 217 L186.79 216.93 L187.38 216.87 L187.98 216.81 L188.57 216.74 L189.17 216.68 L189.76 216.61 L190.36 216.55 L190.95 216.49 L191.55 216.42 L192.14 216.36 L192.74 216.3 L193.33 216.24 L193.93 216.17 L194.52 216.11 L195.12 216.05 L195.71 215.99 L196.31 215.93 L196.9 215.87 L197.5 215.81 L198.1 215.75 L198.69 215.69 L199.29 215.63 L199.88 215.57 L200.48 215.51 L201.07 215.45 L201.67 215.39 L202.26 215.33 L202.86 215.27 L203.45 215.21 L204.05 215.15 L204.64 215.09 L205.24 215.02 L205.83 214.96 L206.43 214.9 L207.02 214.84 L207.62 214.77 L208.21 214.71 L208.81 214.65 L209.4 214.58 L210 214.52 L210.6 214.45 L211.19 214.39 L211.79 214.32 L212.38 214.25 L212.98 214.19 L213.57 214.12 L214.17 214.05 L214.76 213.99 L215.36 213.92 L215.95 213.85 L216.55 213.78 L217.14 213.72 L217.74 213.65 L218.33 213.58 L218.93 213.52 L219.52 213.45 L220.12 213.38 L220.71 213.32 L221.31 213.25 L221.9 213.19 L222.5 213.13 L223.1 213.06 L223.69 213 L224.29 212.94 L224.88 212.88 L225.48 212.82 L226.07 212.76 L226.67 212.7 L227.26 212.64 L227.86 212.58 L228.45 212.53 L229.05 212.47 L229.64 212.41 L230.24 212.35 L230.83 212.3 L231.43 212.24 L232.02 212.18 L232.62 212.13 L233.21 212.07 L233.81 212.01 L234.4 211.96 L235 211.9 L235.6 211.85 L236.19 211.79 L236.79 211.74 L237.38 211.69 L237.98 211.63 L238.57 211.58 L239.17 211.53 L239.76 211.48 L240.36 211.43 L240.95 211.38 L241.55 211.33 L242.14 211.29 L242.74 211.24 L243.33 211.19 L243.93 211.15 L244.52 211.1 L245.12 211.06 L245.71 211.02 L246.31 210.98 L246.9 210.93 L247.5 210.89 L248.1 210.85 L248.69 210.81 L249.29 210.77 L249.88 210.73 L250.48 210.69 L251.07 210.65 L251.67 210.61 L252.26 210.57 L252.86 210.53 L253.45 210.5 L254.05 210.46 L254.64 210.42 L255.24 210.38 L255.83 210.35 L256.43 210.31 L257.02 210.27 L257.62 210.24 L258.21 210.2 L258.81 210.17 L259.4 210.13 L260 210.1 L260.6 210.07 L261.19 210.03 L261.79 210 L262.38 209.97 L262.98 209.93 L263.57 209.9 L264.17 209.87 L264.76 209.84 L265.36 209.81 L265.95 209.78 L266.55 209.75 L267.14 209.73 L267.74 209.7 L268.33 209.67 L268.93 209.64 L269.52 209.62 L270.12 209.59 L270.71 209.57 L271.31 209.54 L271.9 209.52" fill="none" stroke="#000" stroke-width="1.45" stroke-linejoin="round" stroke-linecap="butt"/>
<path d="M91.8 208.11h0M95.88 212.36h0M99.96 215.48h0M104.04 217.58h0M108.12 219.09h0M112.2 220.05h0M116.28 220.7h0M120.36 220.99h0M124.44 221.1h0M128.52 220.89h0M132.6 220.5h0M136.68 220.01h0M140.76 219.35h0M144.84 218.69h0M148.92 218.03h0M153 217.45h0M157.08 216.91h0M161.16 216.39h0M165.24 215.89h0M169.32 215.4h0M173.4 214.9h0M177.48 214.38h0M181.56 213.83h0M185.64 213.29h0M189.72 212.78h0M193.8 212.31h0M197.88 211.85h0M201.96 211.42h0M206.04 211.05h0M210.12 210.71h0M214.2 210.4h0M218.28 210.11h0M222.36 209.84h0M226.44 209.62h0" fill="none" stroke="#1fa7ea" stroke-width="2.44" stroke-linecap="round"/>
<path transform="scale(0.84 1)" d="M107.02 207.5 L107.62 208.29 L108.21 209.08 L108.81 209.9 L109.4 210.74 L110 211.61 L110.6 212.51 L111.19 213.42 L111.79 214.35 L112.38 215.27 L112.98 216.18 L113.57 217.07 L114.17 217.94 L114.76 218.76 L115.36 219.56 L115.95 220.34 L116.55 221.1 L117.14 221.85 L117.74 222.59 L118.33 223.32 L118.93 224.04 L119.52 224.76 L120.12 225.47 L120.71 226.19 L121.31 226.9 L121.9 227.62 L122.5 228.33 L123.1 229.02 L123.69 229.71 L124.29 230.38 L124.88 231.02 L125.48 231.65 L126.07 232.25 L126.67 232.84 L127.26 233.42 L127.86 233.98 L128.45 234.53 L129.05 235.07 L129.64 235.59 L130.24 236.1 L130.83 236.61 L131.43 237.11 L132.02 237.6 L132.62 238.08 L133.21 238.55 L133.81 239.01 L134.4 239.45 L135 239.87 L135.6 240.27 L136.19 240.65 L136.79 241.02 L137.38 241.38 L137.98 241.74 L138.57 242.09 L139.17 242.42 L139.76 242.75 L140.36 243.06 L140.95 243.36 L141.55 243.65 L142.14 243.92 L142.74 244.17 L143.33 244.41 L143.93 244.63 L144.52 244.85 L145.12 245.05 L145.71 245.26 L146.31 245.45 L146.9 245.64 L147.5 245.81 L148.1 245.98 L148.69 246.14 L149.29 246.29 L149.88 246.43 L150.48 246.55 L151.07 246.66 L151.67 246.76 L152.26 246.86 L152.86 246.96 L153.45 247.05 L154.05 247.15 L154.64 247.24 L155.24 247.32 L155.83 247.39 L156.43 247.46 L157.02 247.51 L157.62 247.55 L158.21 247.58 L158.81 247.6 L159.4 247.6 L160 247.6 L160.6 247.6 L161.19 247.6 L161.79 247.6 L162.38 247.6 L162.98 247.6 L163.57 247.6 L164.17 247.6 L164.76 247.6 L165.36 247.6 L165.95 247.6 L166.55 247.6 L167.14 247.6 L167.74 247.6 L168.33 247.6 L168.93 247.6 L169.52 247.59 L170.12 247.58 L170.71 247.56 L171.31 247.53 L171.9 247.5 L172.5 247.47 L173.1 247.43 L173.69 247.39 L174.29 247.34 L174.88 247.29 L175.48 247.24 L176.07 247.19 L176.67 247.14 L177.26 247.09 L177.86 247.04 L178.45 246.99 L179.05 246.94 L179.64 246.89 L180.24 246.83 L180.83 246.77 L181.43 246.7 L182.02 246.64 L182.62 246.57 L183.21 246.5 L183.81 246.43 L184.4 246.35 L185 246.28 L185.6 246.2 L186.19 246.12 L186.79 246.04 L187.38 245.95 L187.98 245.87 L188.57 245.79 L189.17 245.7 L189.76 245.62 L190.36 245.53 L190.95 245.44 L191.55 245.35 L192.14 245.25 L192.74 245.15 L193.33 245.05 L193.93 244.94 L194.52 244.84 L195.12 244.73 L195.71 244.62 L196.31 244.5 L196.9 244.39 L197.5 244.27 L198.1 244.16 L198.69 244.04 L199.29 243.92 L199.88 243.81 L200.48 243.69 L201.07 243.57 L201.67 243.46 L202.26 243.34 L202.86 243.22 L203.45 243.11 L204.05 243 L204.64 242.89 L205.24 242.78 L205.83 242.67 L206.43 242.56 L207.02 242.46 L207.62 242.36 L208.21 242.26 L208.81 242.16 L209.4 242.06 L210 241.96 L210.6 241.86 L211.19 241.76 L211.79 241.67 L212.38 241.57 L212.98 241.47 L213.57 241.37 L214.17 241.28 L214.76 241.18 L215.36 241.08 L215.95 240.99 L216.55 240.89 L217.14 240.8 L217.74 240.71 L218.33 240.61 L218.93 240.52 L219.52 240.43 L220.12 240.34 L220.71 240.25 L221.31 240.16 L221.9 240.07 L222.5 239.99 L223.1 239.9 L223.69 239.81 L224.29 239.73 L224.88 239.65 L225.48 239.56 L226.07 239.48 L226.67 239.4 L227.26 239.32 L227.86 239.24 L228.45 239.16 L229.05 239.08 L229.64 239 L230.24 238.93 L230.83 238.85 L231.43 238.77 L232.02 238.7 L232.62 238.62 L233.21 238.55 L233.81 238.47 L234.4 238.4 L235 238.33 L235.6 238.26 L236.19 238.18 L236.79 238.11 L237.38 238.04 L237.98 237.97 L238.57 237.9 L239.17 237.83 L239.76 237.77 L240.36 237.7 L240.95 237.63 L241.55 237.57 L242.14 237.5 L242.74 237.44 L243.33 237.37 L243.93 237.31 L244.52 237.25 L245.12 237.19 L245.71 237.12 L246.31 237.06 L246.9 237 L247.5 236.94 L248.1 236.88 L248.69 236.83 L249.29 236.77 L249.88 236.71 L250.48 236.65 L251.07 236.59 L251.67 236.53 L252.26 236.48 L252.86 236.42 L253.45 236.36 L254.05 236.31 L254.64 236.25 L255.24 236.2 L255.83 236.14 L256.43 236.09 L257.02 236.03 L257.62 235.98 L258.21 235.93 L258.81 235.87 L259.4 235.82 L260 235.77 L260.6 235.72 L261.19 235.67 L261.79 235.61 L262.38 235.56 L262.98 235.51 L263.57 235.47 L264.17 235.42 L264.76 235.37 L265.36 235.32 L265.95 235.27 L266.55 235.23 L267.14 235.18 L267.74 235.14 L268.33 235.09 L268.93 235.05 L269.52 235 L270.12 234.96 L270.71 234.92 L271.31 234.87 L271.9 234.83" fill="none" stroke="#000" stroke-width="1.45" stroke-linejoin="round" stroke-linecap="butt"/>
<path d="M91.8 210.57h0M95.88 217.9h0M99.96 224.13h0M104.04 229.9h0M108.12 234.77h0M112.2 238.83h0M116.28 242h0M120.36 244.39h0M124.44 246h0M128.52 246.98h0M132.6 247.57h0M136.68 247.6h0M140.76 247.6h0M144.84 247.47h0M148.92 247.09h0M153 246.63h0M157.08 246.01h0M161.16 245.3h0M165.24 244.43h0M169.32 243.47h0M173.4 242.56h0M177.48 241.76h0M181.56 240.99h0M185.64 240.24h0M189.72 239.52h0M193.8 238.8h0M197.88 238.09h0M201.96 237.41h0M206.04 236.78h0M210.12 236.21h0M214.2 235.66h0M218.28 235.15h0M222.36 234.67h0M226.44 234.23h0" fill="none" stroke="#168a16" stroke-width="2.44" stroke-linecap="round"/>
<path transform="scale(0.84 1)" d="M107.02 208 L107.62 208.95 L108.21 209.9 L108.81 210.84 L109.4 211.77 L110 212.71 L110.6 213.65 L111.19 214.59 L111.79 215.52 L112.38 216.44 L112.98 217.34 L113.57 218.23 L114.17 219.09 L114.76 219.93 L115.36 220.75 L115.95 221.56 L116.55 222.37 L117.14 223.17 L117.74 223.97 L118.33 224.77 L118.93 225.59 L119.52 226.4 L120.12 227.22 L120.71 228.04 L121.31 228.85 L121.9 229.66 L122.5 230.47 L123.1 231.28 L123.69 232.08 L124.29 232.89 L124.88 233.7 L125.48 234.51 L126.07 235.31 L126.67 236.1 L127.26 236.89 L127.86 237.65 L128.45 238.4 L129.05 239.12 L129.64 239.83 L130.24 240.53 L130.83 241.22 L131.43 241.91 L132.02 242.59 L132.62 243.28 L133.21 243.98 L133.81 244.68 L134.4 245.37 L135 246.07 L135.6 246.77 L136.19 247.46 L136.79 248.15 L137.38 248.85 L137.98 249.54 L138.57 250.23 L139.17 250.93 L139.76 251.64 L140.36 252.33 L140.95 253.03 L141.55 253.71 L142.14 254.38 L142.74 255.03 L143.33 255.67 L143.93 256.3 L144.52 256.93 L145.12 257.55 L145.71 258.15 L146.31 258.75 L146.9 259.33 L147.5 259.9 L148.1 260.46 L148.69 261 L149.29 261.53 L149.88 262.06 L150.48 262.57 L151.07 263.09 L151.67 263.59 L152.26 264.1 L152.86 264.6 L153.45 265.1 L154.05 265.6 L154.64 266.11 L155.24 266.6 L155.83 267.1 L156.43 267.59 L157.02 268.06 L157.62 268.53 L158.21 268.99 L158.81 269.44 L159.4 269.89 L160 270.33 L160.6 270.76 L161.19 271.19 L161.79 271.62 L162.38 272.03 L162.98 272.44 L163.57 272.84 L164.17 273.24 L164.76 273.62 L165.36 274 L165.95 274.37 L166.55 274.74 L167.14 275.1 L167.74 275.46 L168.33 275.81 L168.93 276.16 L169.52 276.5 L170.12 276.83 L170.71 277.16 L171.31 277.48 L171.9 277.79 L172.5 278.1 L173.1 278.4 L173.69 278.7 L174.29 278.99 L174.88 279.28 L175.48 279.56 L176.07 279.84 L176.67 280.12 L177.26 280.39 L177.86 280.65 L178.45 280.92 L179.05 281.18 L179.64 281.44 L180.24 281.69 L180.83 281.95 L181.43 282.2 L182.02 282.45 L182.62 282.7 L183.21 282.94 L183.81 283.17 L184.4 283.4 L185 283.63 L185.6 283.86 L186.19 284.08 L186.79 284.31 L187.38 284.53 L187.98 284.76 L188.57 284.98 L189.17 285.22 L189.76 285.45 L190.36 285.69 L190.95 285.95 L191.55 286.2 L192.14 286.47 L192.74 286.73 L193.33 287 L193.93 287.27 L194.52 287.54 L195.12 287.81 L195.71 288.07 L196.31 288.33 L196.9 288.58 L197.5 288.82 L198.1 289.05 L198.69 289.27 L199.29 289.48 L199.88 289.68 L200.48 289.87 L201.07 290.05 L201.67 290.24 L202.26 290.42 L202.86 290.59 L203.45 290.77 L204.05 290.93 L204.64 291.1 L205.24 291.26 L205.83 291.42 L206.43 291.57 L207.02 291.71 L207.62 291.86 L208.21 291.99 L208.81 292.13 L209.4 292.25 L210 292.37 L210.6 292.49 L211.19 292.6 L211.79 292.71 L212.38 292.81 L212.98 292.91 L213.57 293.01 L214.17 293.11 L214.76 293.21 L215.36 293.3 L215.95 293.39 L216.55 293.48 L217.14 293.57 L217.74 293.65 L218.33 293.73 L218.93 293.8 L219.52 293.88 L220.12 293.94 L220.71 294.01 L221.31 294.07 L221.9 294.12 L222.5 294.17 L223.1 294.22 L223.69 294.26 L224.29 294.31 L224.88 294.35 L225.48 294.4 L226.07 294.44 L226.67 294.48 L227.26 294.52 L227.86 294.56 L228.45 294.6 L229.05 294.64 L229.64 294.67 L230.24 294.7 L230.83 294.74 L231.43 294.76 L232.02 294.79 L232.62 294.82 L233.21 294.84 L233.81 294.86 L234.4 294.87 L235 294.88 L235.6 294.89 L236.19 294.9 L236.79 294.9 L237.38 294.91 L237.98 294.91 L238.57 294.91 L239.17 294.92 L239.76 294.92 L240.36 294.92 L240.95 294.93 L241.55 294.93 L242.14 294.93 L242.74 294.93 L243.33 294.94 L243.93 294.94 L244.52 294.94 L245.12 294.95 L245.71 294.95 L246.31 294.95 L246.9 294.95 L247.5 294.96 L248.1 294.96 L248.69 294.96 L249.29 294.96 L249.88 294.96 L250.48 294.97 L251.07 294.97 L251.67 294.97 L252.26 294.97 L252.86 294.97 L253.45 294.98 L254.05 294.98 L254.64 294.98 L255.24 294.98 L255.83 294.98 L256.43 294.98 L257.02 294.98 L257.62 294.99 L258.21 294.99 L258.81 294.99 L259.4 294.99 L260 294.99 L260.6 294.99 L261.19 294.99 L261.79 294.99 L262.38 294.99 L262.98 294.99 L263.57 294.99 L264.17 295 L264.76 295 L265.36 295 L265.95 295 L266.55 295 L267.14 295 L267.74 295 L268.33 295 L268.93 295 L269.52 295 L270.12 295 L270.71 295 L271.31 295 L271.9 295" fill="none" stroke="#000" stroke-width="1.45" stroke-linejoin="round" stroke-linecap="butt"/>
<path d="M91.8 211.59h0M95.88 219.05h0M99.96 225.69h0M104.04 232.31h0M108.12 238.72h0M112.2 244.4h0M116.28 250.07h0M120.36 255.62h0M124.44 260.5h0M128.52 264.72h0M132.6 268.72h0M136.68 272.26h0M140.76 275.36h0M144.84 278.06h0M148.92 280.4h0M153 282.5h0M157.08 284.39h0M161.16 286.34h0M165.24 288.5h0M169.32 290.21h0M173.4 291.57h0M177.48 292.62h0M181.56 293.42h0M185.64 294.04h0M189.72 294.42h0M193.8 294.73h0M197.88 294.89h0M201.96 294.92h0M206.04 294.95h0M210.12 294.96h0M214.2 294.98h0M218.28 294.99h0M222.36 295h0M226.44 295h0" fill="none" stroke="#ff8c1a" stroke-width="2.44" stroke-linecap="round"/>
<path transform="scale(0.84 1)" d="M107.02 207.8 L107.62 208.55 L108.21 209.3 L108.81 210.05 L109.4 210.8 L110 211.55 L110.6 212.3 L111.19 213.05 L111.79 213.8 L112.38 214.55 L112.98 215.3 L113.57 216.05 L114.17 216.8 L114.76 217.55 L115.36 218.3 L115.95 219.05 L116.55 219.8 L117.14 220.56 L117.74 221.31 L118.33 222.06 L118.93 222.81 L119.52 223.56 L120.12 224.31 L120.71 225.05 L121.31 225.79 L121.9 226.53 L122.5 227.27 L123.1 228.01 L123.69 228.74 L124.29 229.46 L124.88 230.18 L125.48 230.9 L126.07 231.62 L126.67 232.33 L127.26 233.05 L127.86 233.77 L128.45 234.49 L129.05 235.22 L129.64 235.95 L130.24 236.69 L130.83 237.42 L131.43 238.16 L132.02 238.9 L132.62 239.64 L133.21 240.38 L133.81 241.12 L134.4 241.85 L135 242.58 L135.6 243.31 L136.19 244.03 L136.79 244.74 L137.38 245.44 L137.98 246.14 L138.57 246.83 L139.17 247.51 L139.76 248.19 L140.36 248.87 L140.95 249.54 L141.55 250.21 L142.14 250.87 L142.74 251.53 L143.33 252.19 L143.93 252.84 L144.52 253.49 L145.12 254.14 L145.71 254.78 L146.31 255.43 L146.9 256.06 L147.5 256.7 L148.1 257.33 L148.69 257.96 L149.29 258.58 L149.88 259.19 L150.48 259.81 L151.07 260.41 L151.67 261.02 L152.26 261.63 L152.86 262.24 L153.45 262.84 L154.05 263.45 L154.64 264.06 L155.24 264.67 L155.83 265.28 L156.43 265.89 L157.02 266.5 L157.62 267.1 L158.21 267.71 L158.81 268.31 L159.4 268.91 L160 269.5 L160.6 270.1 L161.19 270.68 L161.79 271.27 L162.38 271.84 L162.98 272.41 L163.57 272.98 L164.17 273.54 L164.76 274.09 L165.36 274.64 L165.95 275.19 L166.55 275.73 L167.14 276.28 L167.74 276.81 L168.33 277.35 L168.93 277.89 L169.52 278.42 L170.12 278.95 L170.71 279.49 L171.31 280.02 L171.9 280.56 L172.5 281.1 L173.1 281.64 L173.69 282.18 L174.29 282.72 L174.88 283.26 L175.48 283.8 L176.07 284.35 L176.67 284.89 L177.26 285.43 L177.86 285.96 L178.45 286.5 L179.05 287.04 L179.64 287.57 L180.24 288.11 L180.83 288.64 L181.43 289.17 L182.02 289.69 L182.62 290.22 L183.21 290.74 L183.81 291.26 L184.4 291.77 L185 292.29 L185.6 292.8 L186.19 293.31 L186.79 293.82 L187.38 294.33 L187.98 294.84 L188.57 295.36 L189.17 295.88 L189.76 296.4 L190.36 296.92 L190.95 297.45 L191.55 297.98 L192.14 298.52 L192.74 299.06 L193.33 299.6 L193.93 300.14 L194.52 300.68 L195.12 301.22 L195.71 301.76 L196.31 302.3 L196.9 302.83 L197.5 303.35 L198.1 303.88 L198.69 304.39 L199.29 304.9 L199.88 305.4 L200.48 305.9 L201.07 306.4 L201.67 306.9 L202.26 307.4 L202.86 307.89 L203.45 308.39 L204.05 308.88 L204.64 309.37 L205.24 309.85 L205.83 310.33 L206.43 310.8 L207.02 311.27 L207.62 311.72 L208.21 312.18 L208.81 312.62 L209.4 313.06 L210 313.48 L210.6 313.9 L211.19 314.3 L211.79 314.7 L212.38 315.09 L212.98 315.48 L213.57 315.86 L214.17 316.24 L214.76 316.61 L215.36 316.98 L215.95 317.35 L216.55 317.71 L217.14 318.06 L217.74 318.42 L218.33 318.76 L218.93 319.11 L219.52 319.45 L220.12 319.78 L220.71 320.11 L221.31 320.44 L221.9 320.76 L222.5 321.08 L223.1 321.4 L223.69 321.71 L224.29 322.01 L224.88 322.32 L225.48 322.61 L226.07 322.91 L226.67 323.2 L227.26 323.49 L227.86 323.77 L228.45 324.05 L229.05 324.33 L229.64 324.6 L230.24 324.87 L230.83 325.14 L231.43 325.41 L232.02 325.67 L232.62 325.93 L233.21 326.18 L233.81 326.44 L234.4 326.69 L235 326.94 L235.6 327.18 L236.19 327.42 L236.79 327.66 L237.38 327.9 L237.98 328.13 L238.57 328.36 L239.17 328.59 L239.76 328.82 L240.36 329.04 L240.95 329.26 L241.55 329.48 L242.14 329.7 L242.74 329.91 L243.33 330.13 L243.93 330.34 L244.52 330.54 L245.12 330.75 L245.71 330.95 L246.31 331.15 L246.9 331.35 L247.5 331.55 L248.1 331.74 L248.69 331.93 L249.29 332.12 L249.88 332.31 L250.48 332.5 L251.07 332.69 L251.67 332.87 L252.26 333.05 L252.86 333.23 L253.45 333.41 L254.05 333.59 L254.64 333.77 L255.24 333.94 L255.83 334.12 L256.43 334.29 L257.02 334.46 L257.62 334.63 L258.21 334.8 L258.81 334.97 L259.4 335.14 L260 335.31 L260.6 335.48 L261.19 335.64 L261.79 335.8 L262.38 335.97 L262.98 336.13 L263.57 336.29 L264.17 336.45 L264.76 336.6 L265.36 336.76 L265.95 336.91 L266.55 337.07 L267.14 337.22 L267.74 337.37 L268.33 337.52 L268.93 337.67 L269.52 337.81 L270.12 337.96 L270.71 338.1 L271.31 338.25 L271.9 338.39" fill="none" stroke="#000" stroke-width="1.45" stroke-linejoin="round" stroke-linecap="butt"/>
<path d="M91.8 210.65h0M95.88 216.77h0M99.96 222.9h0M104.04 228.94h0M108.12 234.81h0M112.2 240.83h0M116.28 246.66h0M120.36 252.14h0M124.44 257.38h0M128.52 262.38h0M132.6 267.34h0M136.68 272.16h0M140.76 276.66h0M144.84 281.04h0M148.92 285.45h0M153 289.8h0M157.08 294h0M161.16 298.26h0M165.24 302.66h0M169.32 306.82h0M173.4 310.8h0M177.48 314.36h0M181.56 317.46h0M185.64 320.27h0M189.72 322.8h0M193.8 325.09h0M197.88 327.17h0M201.96 329.07h0M206.04 330.81h0M210.12 332.4h0M214.2 333.87h0M218.28 335.27h0M222.36 336.59h0M226.44 337.83h0" fill="none" stroke="#ff0d0d" stroke-width="2.44" stroke-linecap="round"/>
<text x="106.9" y="330.2" fill="#000" font-size="16" text-anchor="start">0.9 GPa</text>
<text x="201" y="227.2" fill="#1fa7ea" font-size="16" text-anchor="start">8 K</text>
<text x="194.6" y="256.7" fill="#168a16" font-size="16" text-anchor="start">10 K</text>
<text x="193" y="288.3" fill="#ff8c1a" font-size="16" text-anchor="start">20 K</text>
<text x="192" y="316.5" fill="#ff0d0d" font-size="16" text-anchor="start">30 K</text>
<text x="11.2" y="207.6" fill="#000" font-size="16" text-anchor="start">(c)</text>
<rect x="317.4" y="204.4" width="143.1" height="141.9" fill="none" stroke="#cfcfcf" stroke-width="1"/>
<path d="M337.5 346.3v-2.3 M337.5 204.4v2.3M358.1 346.3v-2.3 M358.1 204.4v2.3M378.7 346.3v-2.3 M378.7 204.4v2.3M399.3 346.3v-2.3 M399.3 204.4v2.3M419.9 346.3v-2.3 M419.9 204.4v2.3M440.5 346.3v-2.3 M440.5 204.4v2.3M461.1 346.3v-2.3 M461.1 204.4v2.3M317.4 226.23h2.4 M460.5 226.23h-2.4M317.4 248.07h2.4 M460.5 248.07h-2.4M317.4 269.9h2.4 M460.5 269.9h-2.4M317.4 291.74h2.4 M460.5 291.74h-2.4M317.4 313.57h2.4 M460.5 313.57h-2.4M317.4 335.4h2.4 M460.5 335.4h-2.4" fill="none" stroke="#cfcfcf" stroke-width="1"/>
<text x="316.9" y="360.4" fill="#000" font-size="16" text-anchor="middle">0</text>
<text x="358.1" y="360.4" fill="#000" font-size="16" text-anchor="middle">20</text>
<text x="399.3" y="360.4" fill="#000" font-size="16" text-anchor="middle">40</text>
<text x="440.5" y="360.4" fill="#000" font-size="16" text-anchor="middle">60</text>
<text x="313.8" y="205.4" fill="#000" font-size="16" text-anchor="end">0</text>
<text x="313.8" y="249.97" fill="#000" font-size="16" text-anchor="end">-0.004</text>
<text x="313.8" y="293.64" fill="#000" font-size="16" text-anchor="end">-0.008</text>
<text x="313.8" y="337.3" fill="#000" font-size="16" text-anchor="end">-0.012</text>
<text x="388.95" y="375" fill="#000" font-size="16" text-anchor="middle"><tspan font-style="italic">H</tspan> (kOe)</text>
<text transform="translate(265 278.5) rotate(-90)" font-size="16" text-anchor="middle" fill="#000"><tspan font-size="15" stroke="#000" stroke-width="0.35">σ</tspan><tspan font-size="11" dy="6.9" dx="1.0">xy</tspan><tspan dy="-6.9">(Ω</tspan><tspan font-size="11.5" dy="-6.6" dx="-0.5">-1</tspan><tspan dy="6.6" dx="0.5">cm</tspan><tspan font-size="11.5" dy="-6.6" dx="-0.5">-1</tspan><tspan dy="6.6" dx="0.5">)</tspan></text>
<path transform="scale(0.84 1)" d="M380.12 207.6 L380.71 208.36 L381.31 209.05 L381.9 209.66 L382.5 210.22 L383.1 210.7 L383.69 211.12 L384.29 211.49 L384.88 211.8 L385.48 212.07 L386.07 212.3 L386.67 212.47 L387.26 212.53 L387.86 212.57 L388.45 212.6 L389.05 212.59 L389.64 212.51 L390.24 212.4 L390.83 212.28 L391.43 212.13 L392.02 211.95 L392.62 211.76 L393.21 211.57 L393.81 211.39 L394.4 211.2 L395 211.01 L395.6 210.81 L396.19 210.62 L396.79 210.44 L397.38 210.27 L397.98 210.13 L398.57 210 L399.17 209.88 L399.76 209.76 L400.36 209.64 L400.95 209.53 L401.55 209.42 L402.14 209.32 L402.74 209.21 L403.33 209.11 L403.93 209.01 L404.52 208.92 L405.12 208.83 L405.71 208.74 L406.31 208.65 L406.9 208.57 L407.5 208.49 L408.1 208.41 L408.69 208.33 L409.29 208.26 L409.88 208.19 L410.48 208.12 L411.07 208.05 L411.67 207.99 L412.26 207.93 L412.86 207.87 L413.45 207.81 L414.05 207.76 L414.64 207.7 L415.24 207.65 L415.83 207.59 L416.43 207.54 L417.02 207.49 L417.62 207.44 L418.21 207.39 L418.81 207.34 L419.4 207.3 L420 207.25 L420.6 207.2 L421.19 207.16 L421.79 207.12 L422.38 207.07 L422.98 207.03 L423.57 206.99 L424.17 206.95 L424.76 206.92 L425.36 206.88 L425.95 206.84 L426.55 206.81 L427.14 206.77 L427.74 206.74 L428.33 206.71 L428.93 206.68 L429.52 206.65 L430.12 206.62 L430.71 206.59 L431.31 206.56 L431.9 206.54 L432.5 206.51 L433.1 206.49 L433.69 206.47 L434.29 206.45 L434.88 206.42 L435.48 206.4 L436.07 206.38 L436.67 206.36 L437.26 206.34 L437.86 206.32 L438.45 206.3 L439.05 206.28 L439.64 206.26 L440.24 206.24 L440.83 206.22 L441.43 206.2 L442.02 206.18 L442.62 206.17 L443.21 206.15 L443.81 206.13 L444.4 206.11 L445 206.1 L445.6 206.08 L446.19 206.07 L446.79 206.05 L447.38 206.03 L447.98 206.02 L448.57 206 L449.17 205.99 L449.76 205.97 L450.36 205.96 L450.95 205.95 L451.55 205.93 L452.14 205.92 L452.74 205.91 L453.33 205.89 L453.93 205.88 L454.52 205.87 L455.12 205.85 L455.71 205.84 L456.31 205.83 L456.9 205.82 L457.5 205.81 L458.1 205.8 L458.69 205.78 L459.29 205.77 L459.88 205.76 L460.48 205.75 L461.07 205.74 L461.67 205.73 L462.26 205.72 L462.86 205.71 L463.45 205.7 L464.05 205.69 L464.64 205.69 L465.24 205.68 L465.83 205.67 L466.43 205.66 L467.02 205.65 L467.62 205.64 L468.21 205.63 L468.81 205.62 L469.4 205.61 L470 205.6 L470.6 205.6 L471.19 205.59 L471.79 205.58 L472.38 205.57 L472.98 205.56 L473.57 205.55 L474.17 205.54 L474.76 205.54 L475.36 205.53 L475.95 205.52 L476.55 205.51 L477.14 205.5 L477.74 205.5 L478.33 205.49 L478.93 205.48 L479.52 205.47 L480.12 205.47 L480.71 205.46 L481.31 205.45 L481.9 205.45 L482.5 205.44 L483.1 205.43 L483.69 205.42 L484.29 205.42 L484.88 205.41 L485.48 205.41 L486.07 205.4 L486.67 205.39 L487.26 205.39 L487.86 205.38 L488.45 205.38 L489.05 205.37 L489.64 205.37 L490.24 205.36 L490.83 205.36 L491.43 205.35 L492.02 205.35 L492.62 205.34 L493.21 205.34 L493.81 205.33 L494.4 205.33 L495 205.33 L495.6 205.32 L496.19 205.32 L496.79 205.31 L497.38 205.31 L497.98 205.31 L498.57 205.31 L499.17 205.3 L499.76 205.3 L500.36 205.3 L500.95 205.3 L501.55 205.29 L502.14 205.29 L502.74 205.29 L503.33 205.29 L503.93 205.29 L504.52 205.28 L505.12 205.28 L505.71 205.28 L506.31 205.28 L506.9 205.28 L507.5 205.27 L508.1 205.27 L508.69 205.27 L509.29 205.27 L509.88 205.27 L510.48 205.26 L511.07 205.26 L511.67 205.26 L512.26 205.26 L512.86 205.26 L513.45 205.25 L514.05 205.25 L514.64 205.25 L515.24 205.25 L515.83 205.25 L516.43 205.25 L517.02 205.24 L517.62 205.24 L518.21 205.24 L518.81 205.24 L519.4 205.24 L520 205.24 L520.6 205.23 L521.19 205.23 L521.79 205.23 L522.38 205.23 L522.98 205.23 L523.57 205.23 L524.17 205.23 L524.76 205.22 L525.36 205.22 L525.95 205.22 L526.55 205.22 L527.14 205.22 L527.74 205.22 L528.33 205.22 L528.93 205.22 L529.52 205.22 L530.12 205.21 L530.71 205.21 L531.31 205.21 L531.9 205.21 L532.5 205.21 L533.1 205.21 L533.69 205.21 L534.29 205.21 L534.88 205.21 L535.48 205.21 L536.07 205.21 L536.67 205.21 L537.26 205.2 L537.86 205.2 L538.45 205.2 L539.05 205.2 L539.64 205.2 L540.24 205.2 L540.83 205.2 L541.43 205.2 L542.02 205.2 L542.62 205.2 L543.21 205.2 L543.81 205.2 L544.4 205.2 L545 205.2 L545.6 205.2" fill="none" stroke="#000" stroke-width="1.45" stroke-linejoin="round" stroke-linecap="butt"/>
<path transform="scale(0.84 1)" d="M380.12 247 L380.71 256.29 L381.31 265.78 L381.9 274.56 L382.5 281.87 L383.1 288.38 L383.69 294.1 L384.29 299.2 L384.88 303.88 L385.48 308.18 L386.07 312.14 L386.67 315.82 L387.26 319.47 L387.86 322.99 L388.45 326.13 L389.05 328.62 L389.64 330.29 L390.24 331.72 L390.83 332.97 L391.43 333.93 L392.02 334.5 L392.62 334.59 L393.21 334.44 L393.81 334.15 L394.4 333.74 L395 333.25 L395.6 332.69 L396.19 332.1 L396.79 331.3 L397.38 330.16 L397.98 328.78 L398.57 327.24 L399.17 325.65 L399.76 324.08 L400.36 322.63 L400.95 321.15 L401.55 319.63 L402.14 318.08 L402.74 316.51 L403.33 314.94 L403.93 313.38 L404.52 311.84 L405.12 310.34 L405.71 308.88 L406.31 307.48 L406.9 306.09 L407.5 304.73 L408.1 303.39 L408.69 302.07 L409.29 300.76 L409.88 299.47 L410.48 298.2 L411.07 296.94 L411.67 295.7 L412.26 294.47 L412.86 293.24 L413.45 292.02 L414.05 290.81 L414.64 289.62 L415.24 288.44 L415.83 287.29 L416.43 286.15 L417.02 285.04 L417.62 283.96 L418.21 282.91 L418.81 281.88 L419.4 280.88 L420 279.89 L420.6 278.92 L421.19 277.98 L421.79 277.06 L422.38 276.15 L422.98 275.28 L423.57 274.43 L424.17 273.6 L424.76 272.8 L425.36 272.02 L425.95 271.26 L426.55 270.51 L427.14 269.79 L427.74 269.07 L428.33 268.37 L428.93 267.68 L429.52 266.99 L430.12 266.31 L430.71 265.64 L431.31 264.96 L431.9 264.29 L432.5 263.61 L433.1 262.93 L433.69 262.24 L434.29 261.55 L434.88 260.87 L435.48 260.18 L436.07 259.49 L436.67 258.81 L437.26 258.14 L437.86 257.47 L438.45 256.8 L439.05 256.15 L439.64 255.5 L440.24 254.87 L440.83 254.25 L441.43 253.65 L442.02 253.06 L442.62 252.49 L443.21 251.93 L443.81 251.37 L444.4 250.83 L445 250.29 L445.6 249.76 L446.19 249.24 L446.79 248.72 L447.38 248.22 L447.98 247.72 L448.57 247.24 L449.17 246.76 L449.76 246.29 L450.36 245.83 L450.95 245.38 L451.55 244.93 L452.14 244.5 L452.74 244.08 L453.33 243.66 L453.93 243.26 L454.52 242.86 L455.12 242.47 L455.71 242.09 L456.31 241.72 L456.9 241.35 L457.5 240.98 L458.1 240.62 L458.69 240.26 L459.29 239.9 L459.88 239.55 L460.48 239.2 L461.07 238.85 L461.67 238.49 L462.26 238.14 L462.86 237.79 L463.45 237.43 L464.05 237.08 L464.64 236.73 L465.24 236.38 L465.83 236.03 L466.43 235.68 L467.02 235.34 L467.62 235 L468.21 234.66 L468.81 234.32 L469.4 233.99 L470 233.65 L470.6 233.33 L471.19 233 L471.79 232.68 L472.38 232.36 L472.98 232.05 L473.57 231.74 L474.17 231.43 L474.76 231.13 L475.36 230.83 L475.95 230.53 L476.55 230.23 L477.14 229.94 L477.74 229.65 L478.33 229.36 L478.93 229.08 L479.52 228.79 L480.12 228.51 L480.71 228.23 L481.31 227.96 L481.9 227.68 L482.5 227.41 L483.1 227.14 L483.69 226.88 L484.29 226.61 L484.88 226.35 L485.48 226.09 L486.07 225.83 L486.67 225.58 L487.26 225.32 L487.86 225.07 L488.45 224.82 L489.05 224.57 L489.64 224.32 L490.24 224.08 L490.83 223.83 L491.43 223.59 L492.02 223.35 L492.62 223.11 L493.21 222.87 L493.81 222.64 L494.4 222.4 L495 222.17 L495.6 221.94 L496.19 221.71 L496.79 221.48 L497.38 221.25 L497.98 221.03 L498.57 220.8 L499.17 220.58 L499.76 220.36 L500.36 220.14 L500.95 219.93 L501.55 219.71 L502.14 219.5 L502.74 219.28 L503.33 219.07 L503.93 218.86 L504.52 218.66 L505.12 218.45 L505.71 218.25 L506.31 218.04 L506.9 217.84 L507.5 217.64 L508.1 217.44 L508.69 217.24 L509.29 217.04 L509.88 216.85 L510.48 216.65 L511.07 216.46 L511.67 216.26 L512.26 216.07 L512.86 215.88 L513.45 215.69 L514.05 215.5 L514.64 215.31 L515.24 215.12 L515.83 214.94 L516.43 214.75 L517.02 214.57 L517.62 214.38 L518.21 214.2 L518.81 214.02 L519.4 213.84 L520 213.66 L520.6 213.48 L521.19 213.3 L521.79 213.13 L522.38 212.95 L522.98 212.78 L523.57 212.6 L524.17 212.43 L524.76 212.26 L525.36 212.08 L525.95 211.91 L526.55 211.74 L527.14 211.57 L527.74 211.4 L528.33 211.24 L528.93 211.07 L529.52 210.9 L530.12 210.73 L530.71 210.57 L531.31 210.4 L531.9 210.23 L532.5 210.07 L533.1 209.9 L533.69 209.74 L534.29 209.58 L534.88 209.41 L535.48 209.25 L536.07 209.09 L536.67 208.93 L537.26 208.77 L537.86 208.61 L538.45 208.45 L539.05 208.29 L539.64 208.13 L540.24 207.98 L540.83 207.82 L541.43 207.66 L542.02 207.51 L542.62 207.35 L543.21 207.2 L543.81 207.05 L544.4 206.89 L545 206.74 L545.6 206.59" fill="none" stroke="#000" stroke-width="1.45" stroke-linejoin="round" stroke-linecap="butt"/>
<path d="M320.9 209.78h0M324.98 212.5h0M329.06 212.04h0M333.14 210.49h0M337.22 209.44h0M341.3 208.65h0M345.38 208.04h0M349.46 207.58h0M353.54 207.18h0M357.62 206.85h0M361.7 206.6h0M365.78 206.4h0M369.86 206.24h0M373.94 206.09h0M378.02 205.97h0M382.1 205.86h0M386.18 205.77h0M390.26 205.69h0M394.34 205.61h0M398.42 205.54h0M402.5 205.48h0M406.58 205.42h0M410.66 205.37h0M414.74 205.33h0M418.82 205.31h0M422.9 205.29h0M426.98 205.27h0M431.06 205.26h0M435.14 205.24h0M439.22 205.23h0M443.3 205.22h0M447.38 205.21h0M451.46 205.2h0M455.54 205.2h0" fill="none" stroke="#c848e0" stroke-width="2.44" stroke-linecap="round"/>
<path d="M319.2 241.8h0M321.24 271.16h0M323.28 300.84h0M325.32 319.23h0M327.36 331.57h0M329.4 337.28h0M331.44 338.58h0M333.48 336.87h0M335.52 332.55h0M337.56 326.9h0M339.6 320.94h0M341.64 313.71h0M343.68 307.09h0M345.72 300.45h0M347.76 294.13h0M349.8 287.9h0M351.84 282.06h0M353.88 277.04h0M355.92 272.87h0M357.96 268.61h0M360 264.47h0M362.04 260.73h0M364.08 256.96h0M366.12 253.58h0M368.16 250.66h0M370.2 248.01h0M372.24 245.31h0M374.28 243.22h0M376.32 241.08h0M378.36 239.2h0M380.4 237.47h0M382.44 235.83h0M384.48 233.79h0M386.52 232.3h0M388.56 230.79h0M390.6 229.5h0M392.64 228.31h0M394.68 227.22h0M396.72 226.2h0M398.76 225.24h0M400.8 224.34h0M402.84 223.51h0M404.88 222.76h0M406.92 222.06h0M408.96 221.42h0M411 220.84h0M413.04 220.32h0M415.08 219.87h0M417.12 219.46h0M419.16 219.05h0M421.2 218.63h0M423.24 218.19h0M425.28 217.75h0M427.32 217.33h0M429.36 216.94h0M431.4 216.55h0M433.44 216.18h0M435.48 215.85h0M437.52 215.59h0M439.56 215.38h0M441.6 215.19h0M443.64 215h0M445.68 214.8h0M447.72 214.61h0M449.76 214.41h0M451.8 214.21h0M453.84 213.98h0M455.88 213.74h0M457.92 213.49h0" fill="none" stroke="#1010e0" stroke-width="2.26" stroke-linecap="round"/>
<text x="345.5" y="224.5" fill="#c848e0" font-size="16" text-anchor="start">5 K</text>
<text x="433.8" y="237.2" fill="#1212cc" font-size="16" text-anchor="start">6 K</text>
<text x="397.7" y="332.1" fill="#000" font-size="16" text-anchor="start">0.9 GPa</text>
<text x="243.2" y="207.6" fill="#000" font-size="16" text-anchor="start">(d)</text>
<rect x="88.5" y="391.6" width="142.1" height="142.8" fill="none" stroke="#cfcfcf" stroke-width="1"/>
<path d="M108.85 534.4v-2.3 M108.85 391.6v2.3M129.2 534.4v-2.3 M129.2 391.6v2.3M149.55 534.4v-2.3 M149.55 391.6v2.3M169.9 534.4v-2.3 M169.9 391.6v2.3M190.25 534.4v-2.3 M190.25 391.6v2.3M210.6 534.4v-2.3 M210.6 391.6v2.3M230.95 534.4v-2.3 M230.95 391.6v2.3M88.5 410.02h2.3 M230.6 410.02h-2.3M88.5 428.44h2.3 M230.6 428.44h-2.3M88.5 446.86h2.3 M230.6 446.86h-2.3M88.5 465.28h2.3 M230.6 465.28h-2.3M88.5 483.7h2.3 M230.6 483.7h-2.3M88.5 502.12h2.3 M230.6 502.12h-2.3M88.5 520.54h2.3 M230.6 520.54h-2.3" fill="none" stroke="#cfcfcf" stroke-width="1"/>
<text x="88.5" y="548.1" fill="#000" font-size="16" text-anchor="middle">0</text>
<text x="129.2" y="548.1" fill="#000" font-size="16" text-anchor="middle">20</text>
<text x="169.9" y="548.1" fill="#000" font-size="16" text-anchor="middle">40</text>
<text x="210.6" y="548.1" fill="#000" font-size="16" text-anchor="middle">60</text>
<text x="84.9" y="393.3" fill="#000" font-size="16" text-anchor="end">0</text>
<text x="84.9" y="430.34" fill="#000" font-size="16" text-anchor="end">-0.4</text>
<text x="84.9" y="467.18" fill="#000" font-size="16" text-anchor="end">-0.8</text>
<text x="84.9" y="504.02" fill="#000" font-size="16" text-anchor="end">-1.2</text>
<text x="161.45" y="563.7" fill="#000" font-size="16" text-anchor="middle"><tspan font-style="italic">H</tspan> (kOe)</text>
<text transform="translate(36.5 462) rotate(-90)" font-size="16" text-anchor="middle" fill="#000"><tspan font-size="15" stroke="#000" stroke-width="0.35">σ</tspan><tspan font-size="11" dy="6.9" dx="1.0">xy</tspan><tspan dy="-6.9">(Ω</tspan><tspan font-size="11.5" dy="-6.6" dx="-0.5">-1</tspan><tspan dy="6.6" dx="0.5">cm</tspan><tspan font-size="11.5" dy="-6.6" dx="-0.5">-1</tspan><tspan dy="6.6" dx="0.5">)</tspan></text>
<path transform="scale(0.84 1)" d="M107.02 392.3 L107.62 392.43 L108.21 392.57 L108.81 392.71 L109.4 392.86 L110 393.03 L110.6 393.2 L111.19 393.38 L111.79 393.57 L112.38 393.75 L112.98 393.93 L113.57 394.1 L114.17 394.26 L114.76 394.43 L115.36 394.59 L115.95 394.76 L116.55 394.93 L117.14 395.09 L117.74 395.24 L118.33 395.39 L118.93 395.52 L119.52 395.64 L120.12 395.75 L120.71 395.83 L121.31 395.92 L121.9 396 L122.5 396.08 L123.1 396.16 L123.69 396.24 L124.29 396.31 L124.88 396.39 L125.48 396.45 L126.07 396.52 L126.67 396.58 L127.26 396.64 L127.86 396.69 L128.45 396.74 L129.05 396.78 L129.64 396.82 L130.24 396.85 L130.83 396.87 L131.43 396.89 L132.02 396.9 L132.62 396.91 L133.21 396.91 L133.81 396.92 L134.4 396.93 L135 396.93 L135.6 396.94 L136.19 396.95 L136.79 396.95 L137.38 396.96 L137.98 396.96 L138.57 396.97 L139.17 396.97 L139.76 396.97 L140.36 396.98 L140.95 396.98 L141.55 396.98 L142.14 396.99 L142.74 396.99 L143.33 396.99 L143.93 396.99 L144.52 397 L145.12 397 L145.71 397 L146.31 397 L146.9 397 L147.5 397 L148.1 397 L148.69 396.99 L149.29 396.98 L149.88 396.97 L150.48 396.95 L151.07 396.93 L151.67 396.91 L152.26 396.89 L152.86 396.86 L153.45 396.83 L154.05 396.8 L154.64 396.77 L155.24 396.73 L155.83 396.7 L156.43 396.66 L157.02 396.63 L157.62 396.59 L158.21 396.56 L158.81 396.52 L159.4 396.48 L160 396.45 L160.6 396.42 L161.19 396.38 L161.79 396.35 L162.38 396.32 L162.98 396.29 L163.57 396.27 L164.17 396.24 L164.76 396.21 L165.36 396.19 L165.95 396.16 L166.55 396.13 L167.14 396.1 L167.74 396.08 L168.33 396.05 L168.93 396.02 L169.52 396 L170.12 395.97 L170.71 395.94 L171.31 395.92 L171.9 395.89 L172.5 395.86 L173.1 395.83 L173.69 395.81 L174.29 395.78 L174.88 395.75 L175.48 395.73 L176.07 395.7 L176.67 395.67 L177.26 395.65 L177.86 395.62 L178.45 395.59 L179.05 395.57 L179.64 395.54 L180.24 395.52 L180.83 395.49 L181.43 395.46 L182.02 395.44 L182.62 395.41 L183.21 395.39 L183.81 395.36 L184.4 395.34 L185 395.31 L185.6 395.28 L186.19 395.26 L186.79 395.23 L187.38 395.21 L187.98 395.18 L188.57 395.16 L189.17 395.13 L189.76 395.11 L190.36 395.08 L190.95 395.05 L191.55 395.03 L192.14 395 L192.74 394.97 L193.33 394.95 L193.93 394.92 L194.52 394.89 L195.12 394.87 L195.71 394.84 L196.31 394.81 L196.9 394.78 L197.5 394.76 L198.1 394.73 L198.69 394.7 L199.29 394.68 L199.88 394.65 L200.48 394.62 L201.07 394.59 L201.67 394.57 L202.26 394.54 L202.86 394.51 L203.45 394.49 L204.05 394.46 L204.64 394.43 L205.24 394.41 L205.83 394.38 L206.43 394.35 L207.02 394.33 L207.62 394.3 L208.21 394.28 L208.81 394.25 L209.4 394.23 L210 394.2 L210.6 394.18 L211.19 394.16 L211.79 394.13 L212.38 394.11 L212.98 394.09 L213.57 394.07 L214.17 394.05 L214.76 394.02 L215.36 394 L215.95 393.98 L216.55 393.96 L217.14 393.94 L217.74 393.92 L218.33 393.91 L218.93 393.89 L219.52 393.87 L220.12 393.85 L220.71 393.83 L221.31 393.81 L221.9 393.79 L222.5 393.77 L223.1 393.76 L223.69 393.74 L224.29 393.72 L224.88 393.7 L225.48 393.69 L226.07 393.67 L226.67 393.65 L227.26 393.63 L227.86 393.62 L228.45 393.6 L229.05 393.58 L229.64 393.57 L230.24 393.55 L230.83 393.54 L231.43 393.52 L232.02 393.5 L232.62 393.49 L233.21 393.47 L233.81 393.46 L234.4 393.44 L235 393.43 L235.6 393.41 L236.19 393.39 L236.79 393.38 L237.38 393.36 L237.98 393.35 L238.57 393.33 L239.17 393.32 L239.76 393.3 L240.36 393.29 L240.95 393.28 L241.55 393.26 L242.14 393.25 L242.74 393.23 L243.33 393.22 L243.93 393.2 L244.52 393.19 L245.12 393.17 L245.71 393.16 L246.31 393.15 L246.9 393.13 L247.5 393.12 L248.1 393.1 L248.69 393.09 L249.29 393.08 L249.88 393.06 L250.48 393.05 L251.07 393.04 L251.67 393.02 L252.26 393.01 L252.86 392.99 L253.45 392.98 L254.05 392.97 L254.64 392.96 L255.24 392.94 L255.83 392.93 L256.43 392.92 L257.02 392.9 L257.62 392.89 L258.21 392.88 L258.81 392.86 L259.4 392.85 L260 392.84 L260.6 392.83 L261.19 392.82 L261.79 392.8 L262.38 392.79 L262.98 392.78 L263.57 392.77 L264.17 392.75 L264.76 392.74 L265.36 392.73 L265.95 392.72 L266.55 392.71 L267.14 392.7 L267.74 392.69 L268.33 392.67 L268.93 392.66 L269.52 392.65 L270.12 392.64 L270.71 392.63 L271.31 392.62 L271.9 392.61" fill="none" stroke="#000" stroke-width="1.45" stroke-linejoin="round" stroke-linecap="butt"/>
<path d="M91.8 392.83h0M95.88 394.26h0M99.96 395.54h0M104.04 396.26h0M108.12 396.76h0M112.2 396.92h0M116.28 396.97h0M120.36 396.99h0M124.44 397h0M128.52 396.85h0M132.6 396.58h0M136.68 396.31h0M140.76 396.09h0M144.84 395.86h0M148.92 395.65h0M153 395.43h0M157.08 395.22h0M161.16 395.01h0M165.24 394.79h0M169.32 394.57h0M173.4 394.35h0M177.48 394.15h0M181.56 393.98h0M185.64 393.82h0M189.72 393.67h0M193.8 393.54h0M197.88 393.41h0M201.96 393.29h0M206.04 393.17h0M210.12 393.06h0M214.2 392.95h0M218.28 392.84h0M222.36 392.74h0M226.44 392.65h0" fill="none" stroke="#1fa7ea" stroke-width="2.44" stroke-linecap="round"/>
<path transform="scale(0.84 1)" d="M107.02 392.8 L107.62 393.36 L108.21 393.91 L108.81 394.47 L109.4 395.02 L110 395.6 L110.6 396.19 L111.19 396.77 L111.79 397.32 L112.38 397.83 L112.98 398.27 L113.57 398.69 L114.17 399.09 L114.76 399.47 L115.36 399.84 L115.95 400.19 L116.55 400.53 L117.14 400.86 L117.74 401.19 L118.33 401.5 L118.93 401.81 L119.52 402.12 L120.12 402.42 L120.71 402.72 L121.31 403.02 L121.9 403.32 L122.5 403.61 L123.1 403.9 L123.69 404.18 L124.29 404.46 L124.88 404.73 L125.48 404.99 L126.07 405.25 L126.67 405.5 L127.26 405.74 L127.86 405.97 L128.45 406.19 L129.05 406.4 L129.64 406.61 L130.24 406.82 L130.83 407.02 L131.43 407.21 L132.02 407.4 L132.62 407.59 L133.21 407.77 L133.81 407.94 L134.4 408.1 L135 408.26 L135.6 408.41 L136.19 408.56 L136.79 408.7 L137.38 408.84 L137.98 408.98 L138.57 409.11 L139.17 409.24 L139.76 409.37 L140.36 409.49 L140.95 409.6 L141.55 409.7 L142.14 409.8 L142.74 409.89 L143.33 409.97 L143.93 410.04 L144.52 410.11 L145.12 410.18 L145.71 410.24 L146.31 410.3 L146.9 410.36 L147.5 410.42 L148.1 410.48 L148.69 410.53 L149.29 410.58 L149.88 410.62 L150.48 410.66 L151.07 410.7 L151.67 410.73 L152.26 410.76 L152.86 410.79 L153.45 410.81 L154.05 410.83 L154.64 410.85 L155.24 410.86 L155.83 410.88 L156.43 410.9 L157.02 410.92 L157.62 410.93 L158.21 410.94 L158.81 410.96 L159.4 410.97 L160 410.98 L160.6 410.99 L161.19 410.99 L161.79 411 L162.38 411 L162.98 411 L163.57 411 L164.17 410.99 L164.76 410.98 L165.36 410.97 L165.95 410.95 L166.55 410.93 L167.14 410.9 L167.74 410.88 L168.33 410.85 L168.93 410.82 L169.52 410.79 L170.12 410.76 L170.71 410.72 L171.31 410.69 L171.9 410.65 L172.5 410.62 L173.1 410.58 L173.69 410.55 L174.29 410.51 L174.88 410.48 L175.48 410.44 L176.07 410.4 L176.67 410.36 L177.26 410.31 L177.86 410.26 L178.45 410.21 L179.05 410.16 L179.64 410.11 L180.24 410.05 L180.83 410 L181.43 409.94 L182.02 409.88 L182.62 409.82 L183.21 409.76 L183.81 409.7 L184.4 409.64 L185 409.58 L185.6 409.52 L186.19 409.46 L186.79 409.4 L187.38 409.34 L187.98 409.28 L188.57 409.22 L189.17 409.17 L189.76 409.11 L190.36 409.06 L190.95 409 L191.55 408.95 L192.14 408.89 L192.74 408.84 L193.33 408.78 L193.93 408.73 L194.52 408.67 L195.12 408.62 L195.71 408.56 L196.31 408.51 L196.9 408.45 L197.5 408.39 L198.1 408.34 L198.69 408.28 L199.29 408.23 L199.88 408.17 L200.48 408.12 L201.07 408.06 L201.67 408 L202.26 407.95 L202.86 407.89 L203.45 407.84 L204.05 407.78 L204.64 407.73 L205.24 407.68 L205.83 407.62 L206.43 407.57 L207.02 407.51 L207.62 407.46 L208.21 407.41 L208.81 407.36 L209.4 407.3 L210 407.25 L210.6 407.2 L211.19 407.15 L211.79 407.1 L212.38 407.05 L212.98 407 L213.57 406.95 L214.17 406.9 L214.76 406.86 L215.36 406.81 L215.95 406.76 L216.55 406.72 L217.14 406.67 L217.74 406.63 L218.33 406.58 L218.93 406.54 L219.52 406.49 L220.12 406.45 L220.71 406.4 L221.31 406.36 L221.9 406.32 L222.5 406.27 L223.1 406.23 L223.69 406.19 L224.29 406.15 L224.88 406.1 L225.48 406.06 L226.07 406.02 L226.67 405.98 L227.26 405.94 L227.86 405.9 L228.45 405.86 L229.05 405.82 L229.64 405.78 L230.24 405.74 L230.83 405.7 L231.43 405.66 L232.02 405.62 L232.62 405.58 L233.21 405.54 L233.81 405.5 L234.4 405.46 L235 405.42 L235.6 405.38 L236.19 405.34 L236.79 405.31 L237.38 405.27 L237.98 405.23 L238.57 405.19 L239.17 405.15 L239.76 405.12 L240.36 405.08 L240.95 405.04 L241.55 405 L242.14 404.96 L242.74 404.93 L243.33 404.89 L243.93 404.85 L244.52 404.81 L245.12 404.78 L245.71 404.74 L246.31 404.7 L246.9 404.67 L247.5 404.63 L248.1 404.59 L248.69 404.56 L249.29 404.52 L249.88 404.48 L250.48 404.45 L251.07 404.41 L251.67 404.37 L252.26 404.34 L252.86 404.3 L253.45 404.27 L254.05 404.23 L254.64 404.2 L255.24 404.16 L255.83 404.13 L256.43 404.09 L257.02 404.06 L257.62 404.02 L258.21 403.99 L258.81 403.95 L259.4 403.92 L260 403.88 L260.6 403.85 L261.19 403.81 L261.79 403.78 L262.38 403.75 L262.98 403.71 L263.57 403.68 L264.17 403.65 L264.76 403.61 L265.36 403.58 L265.95 403.55 L266.55 403.51 L267.14 403.48 L267.74 403.45 L268.33 403.42 L268.93 403.38 L269.52 403.35 L270.12 403.32 L270.71 403.29 L271.31 403.26 L271.9 403.23" fill="none" stroke="#000" stroke-width="1.45" stroke-linejoin="round" stroke-linecap="butt"/>
<path d="M91.8 394.91h0M95.88 399.08h0M99.96 401.85h0M104.04 404.26h0M108.12 406.28h0M112.2 407.87h0M116.28 409.08h0M120.36 409.96h0M124.44 410.48h0M128.52 410.79h0M132.6 410.94h0M136.68 411h0M140.76 410.89h0M144.84 410.62h0M148.92 410.31h0M153 409.87h0M157.08 409.38h0M161.16 408.92h0M165.24 408.47h0M169.32 408.01h0M173.4 407.57h0M177.48 407.14h0M181.56 406.75h0M185.64 406.38h0M189.72 406.04h0M193.8 405.7h0M197.88 405.38h0M201.96 405.07h0M206.04 404.77h0M210.12 404.47h0M214.2 404.18h0M218.28 403.89h0M222.36 403.62h0M226.44 403.35h0" fill="none" stroke="#168a16" stroke-width="2.44" stroke-linecap="round"/>
<path transform="scale(0.84 1)" d="M107.02 395 L107.62 395.98 L108.21 396.96 L108.81 397.92 L109.4 398.88 L110 399.83 L110.6 400.78 L111.19 401.72 L111.79 402.65 L112.38 403.58 L112.98 404.5 L113.57 405.42 L114.17 406.33 L114.76 407.23 L115.36 408.12 L115.95 409.01 L116.55 409.9 L117.14 410.78 L117.74 411.67 L118.33 412.55 L118.93 413.43 L119.52 414.31 L120.12 415.2 L120.71 416.08 L121.31 416.96 L121.9 417.83 L122.5 418.7 L123.1 419.56 L123.69 420.41 L124.29 421.26 L124.88 422.1 L125.48 422.93 L126.07 423.76 L126.67 424.58 L127.26 425.4 L127.86 426.21 L128.45 427.02 L129.05 427.83 L129.64 428.64 L130.24 429.44 L130.83 430.23 L131.43 431.01 L132.02 431.79 L132.62 432.55 L133.21 433.3 L133.81 434.03 L134.4 434.75 L135 435.46 L135.6 436.16 L136.19 436.86 L136.79 437.55 L137.38 438.24 L137.98 438.94 L138.57 439.64 L139.17 440.34 L139.76 441.04 L140.36 441.73 L140.95 442.42 L141.55 443.1 L142.14 443.77 L142.74 444.43 L143.33 445.08 L143.93 445.72 L144.52 446.36 L145.12 446.99 L145.71 447.61 L146.31 448.22 L146.9 448.81 L147.5 449.4 L148.1 449.98 L148.69 450.54 L149.29 451.1 L149.88 451.65 L150.48 452.19 L151.07 452.72 L151.67 453.25 L152.26 453.77 L152.86 454.29 L153.45 454.8 L154.05 455.31 L154.64 455.8 L155.24 456.29 L155.83 456.78 L156.43 457.26 L157.02 457.74 L157.62 458.22 L158.21 458.7 L158.81 459.18 L159.4 459.66 L160 460.14 L160.6 460.63 L161.19 461.1 L161.79 461.57 L162.38 462.04 L162.98 462.49 L163.57 462.94 L164.17 463.39 L164.76 463.83 L165.36 464.28 L165.95 464.72 L166.55 465.15 L167.14 465.59 L167.74 466.02 L168.33 466.44 L168.93 466.87 L169.52 467.28 L170.12 467.7 L170.71 468.11 L171.31 468.51 L171.9 468.91 L172.5 469.3 L173.1 469.69 L173.69 470.07 L174.29 470.46 L174.88 470.83 L175.48 471.21 L176.07 471.57 L176.67 471.94 L177.26 472.3 L177.86 472.65 L178.45 473 L179.05 473.34 L179.64 473.67 L180.24 474 L180.83 474.32 L181.43 474.64 L182.02 474.95 L182.62 475.26 L183.21 475.56 L183.81 475.86 L184.4 476.14 L185 476.42 L185.6 476.69 L186.19 476.95 L186.79 477.2 L187.38 477.43 L187.98 477.65 L188.57 477.87 L189.17 478.09 L189.76 478.32 L190.36 478.55 L190.95 478.8 L191.55 479.06 L192.14 479.33 L192.74 479.61 L193.33 479.89 L193.93 480.18 L194.52 480.47 L195.12 480.75 L195.71 481.04 L196.31 481.32 L196.9 481.59 L197.5 481.86 L198.1 482.11 L198.69 482.35 L199.29 482.57 L199.88 482.78 L200.48 482.98 L201.07 483.18 L201.67 483.38 L202.26 483.57 L202.86 483.75 L203.45 483.94 L204.05 484.11 L204.64 484.29 L205.24 484.46 L205.83 484.62 L206.43 484.78 L207.02 484.94 L207.62 485.09 L208.21 485.24 L208.81 485.38 L209.4 485.52 L210 485.65 L210.6 485.78 L211.19 485.9 L211.79 486.02 L212.38 486.14 L212.98 486.25 L213.57 486.37 L214.17 486.48 L214.76 486.6 L215.36 486.71 L215.95 486.82 L216.55 486.92 L217.14 487.03 L217.74 487.13 L218.33 487.23 L218.93 487.33 L219.52 487.42 L220.12 487.51 L220.71 487.6 L221.31 487.69 L221.9 487.77 L222.5 487.85 L223.1 487.92 L223.69 488 L224.29 488.07 L224.88 488.13 L225.48 488.19 L226.07 488.25 L226.67 488.3 L227.26 488.35 L227.86 488.4 L228.45 488.45 L229.05 488.5 L229.64 488.55 L230.24 488.59 L230.83 488.64 L231.43 488.68 L232.02 488.73 L232.62 488.77 L233.21 488.81 L233.81 488.85 L234.4 488.89 L235 488.93 L235.6 488.96 L236.19 488.99 L236.79 489.02 L237.38 489.05 L237.98 489.08 L238.57 489.1 L239.17 489.13 L239.76 489.15 L240.36 489.16 L240.95 489.18 L241.55 489.19 L242.14 489.2 L242.74 489.21 L243.33 489.22 L243.93 489.22 L244.52 489.23 L245.12 489.24 L245.71 489.24 L246.31 489.25 L246.9 489.26 L247.5 489.26 L248.1 489.27 L248.69 489.28 L249.29 489.28 L249.88 489.29 L250.48 489.29 L251.07 489.3 L251.67 489.31 L252.26 489.31 L252.86 489.32 L253.45 489.32 L254.05 489.33 L254.64 489.33 L255.24 489.33 L255.83 489.34 L256.43 489.34 L257.02 489.35 L257.62 489.35 L258.21 489.36 L258.81 489.36 L259.4 489.36 L260 489.37 L260.6 489.37 L261.19 489.37 L261.79 489.37 L262.38 489.38 L262.98 489.38 L263.57 489.38 L264.17 489.38 L264.76 489.39 L265.36 489.39 L265.95 489.39 L266.55 489.39 L267.14 489.39 L267.74 489.4 L268.33 489.4 L268.93 489.4 L269.52 489.4 L270.12 489.4 L270.71 489.4 L271.31 489.4 L271.9 489.4" fill="none" stroke="#000" stroke-width="1.45" stroke-linejoin="round" stroke-linecap="butt"/>
<path d="M91.8 398.69h0M95.88 406.29h0M99.96 413.54h0M104.04 420.65h0M108.12 427.38h0M112.2 433.74h0M116.28 439.47h0M120.36 445.03h0M124.44 450.02h0M128.52 454.42h0M132.6 458.41h0M136.68 462.29h0M140.76 465.9h0M144.84 469.25h0M148.92 472.31h0M153 475.01h0M157.08 477.28h0M161.16 479.2h0M165.24 481.51h0M169.32 483.35h0M173.4 484.78h0M177.48 485.92h0M181.56 486.85h0M185.64 487.64h0M189.72 488.23h0M193.8 488.63h0M197.88 488.96h0M201.96 489.17h0M206.04 489.24h0M210.12 489.29h0M214.2 489.33h0M218.28 489.36h0M222.36 489.39h0M226.44 489.4h0" fill="none" stroke="#ff8c1a" stroke-width="2.44" stroke-linecap="round"/>
<path transform="scale(0.84 1)" d="M107.02 394.5 L107.62 395.26 L108.21 396.01 L108.81 396.76 L109.4 397.49 L110 398.22 L110.6 398.93 L111.19 399.64 L111.79 400.35 L112.38 401.06 L112.98 401.76 L113.57 402.46 L114.17 403.16 L114.76 403.85 L115.36 404.54 L115.95 405.23 L116.55 405.92 L117.14 406.61 L117.74 407.31 L118.33 408.01 L118.93 408.73 L119.52 409.46 L120.12 410.19 L120.71 410.93 L121.31 411.68 L121.9 412.42 L122.5 413.17 L123.1 413.91 L123.69 414.64 L124.29 415.38 L124.88 416.11 L125.48 416.85 L126.07 417.58 L126.67 418.31 L127.26 419.04 L127.86 419.77 L128.45 420.49 L129.05 421.21 L129.64 421.93 L130.24 422.65 L130.83 423.36 L131.43 424.07 L132.02 424.78 L132.62 425.48 L133.21 426.18 L133.81 426.87 L134.4 427.55 L135 428.23 L135.6 428.9 L136.19 429.58 L136.79 430.26 L137.38 430.95 L137.98 431.64 L138.57 432.34 L139.17 433.05 L139.76 433.77 L140.36 434.49 L140.95 435.21 L141.55 435.92 L142.14 436.63 L142.74 437.34 L143.33 438.05 L143.93 438.76 L144.52 439.47 L145.12 440.17 L145.71 440.87 L146.31 441.56 L146.9 442.24 L147.5 442.9 L148.1 443.55 L148.69 444.18 L149.29 444.81 L149.88 445.43 L150.48 446.04 L151.07 446.64 L151.67 447.24 L152.26 447.84 L152.86 448.44 L153.45 449.04 L154.05 449.63 L154.64 450.22 L155.24 450.81 L155.83 451.39 L156.43 451.97 L157.02 452.55 L157.62 453.13 L158.21 453.72 L158.81 454.3 L159.4 454.89 L160 455.48 L160.6 456.06 L161.19 456.65 L161.79 457.24 L162.38 457.83 L162.98 458.42 L163.57 459.01 L164.17 459.6 L164.76 460.2 L165.36 460.79 L165.95 461.38 L166.55 461.97 L167.14 462.55 L167.74 463.12 L168.33 463.7 L168.93 464.28 L169.52 464.85 L170.12 465.43 L170.71 466 L171.31 466.57 L171.9 467.13 L172.5 467.69 L173.1 468.25 L173.69 468.81 L174.29 469.36 L174.88 469.91 L175.48 470.45 L176.07 470.98 L176.67 471.51 L177.26 472.03 L177.86 472.55 L178.45 473.06 L179.05 473.56 L179.64 474.06 L180.24 474.56 L180.83 475.05 L181.43 475.54 L182.02 476.03 L182.62 476.52 L183.21 477.01 L183.81 477.5 L184.4 478 L185 478.49 L185.6 479 L186.19 479.5 L186.79 480.01 L187.38 480.52 L187.98 481.03 L188.57 481.54 L189.17 482.05 L189.76 482.57 L190.36 483.09 L190.95 483.62 L191.55 484.16 L192.14 484.71 L192.74 485.26 L193.33 485.82 L193.93 486.38 L194.52 486.94 L195.12 487.5 L195.71 488.06 L196.31 488.61 L196.9 489.16 L197.5 489.71 L198.1 490.25 L198.69 490.78 L199.29 491.29 L199.88 491.8 L200.48 492.31 L201.07 492.81 L201.67 493.31 L202.26 493.8 L202.86 494.29 L203.45 494.78 L204.05 495.26 L204.64 495.75 L205.24 496.22 L205.83 496.69 L206.43 497.16 L207.02 497.62 L207.62 498.08 L208.21 498.53 L208.81 498.98 L209.4 499.42 L210 499.85 L210.6 500.28 L211.19 500.7 L211.79 501.12 L212.38 501.53 L212.98 501.94 L213.57 502.35 L214.17 502.75 L214.76 503.15 L215.36 503.55 L215.95 503.95 L216.55 504.34 L217.14 504.73 L217.74 505.11 L218.33 505.49 L218.93 505.87 L219.52 506.24 L220.12 506.61 L220.71 506.97 L221.31 507.34 L221.9 507.69 L222.5 508.05 L223.1 508.4 L223.69 508.74 L224.29 509.08 L224.88 509.42 L225.48 509.75 L226.07 510.08 L226.67 510.4 L227.26 510.72 L227.86 511.03 L228.45 511.34 L229.05 511.65 L229.64 511.95 L230.24 512.25 L230.83 512.55 L231.43 512.84 L232.02 513.13 L232.62 513.42 L233.21 513.7 L233.81 513.99 L234.4 514.26 L235 514.54 L235.6 514.81 L236.19 515.09 L236.79 515.36 L237.38 515.62 L237.98 515.89 L238.57 516.15 L239.17 516.41 L239.76 516.67 L240.36 516.93 L240.95 517.19 L241.55 517.45 L242.14 517.7 L242.74 517.95 L243.33 518.21 L243.93 518.46 L244.52 518.7 L245.12 518.95 L245.71 519.2 L246.31 519.44 L246.9 519.68 L247.5 519.92 L248.1 520.16 L248.69 520.4 L249.29 520.63 L249.88 520.87 L250.48 521.1 L251.07 521.33 L251.67 521.56 L252.26 521.78 L252.86 522.01 L253.45 522.23 L254.05 522.45 L254.64 522.67 L255.24 522.89 L255.83 523.1 L256.43 523.32 L257.02 523.53 L257.62 523.74 L258.21 523.95 L258.81 524.16 L259.4 524.37 L260 524.57 L260.6 524.77 L261.19 524.98 L261.79 525.18 L262.38 525.38 L262.98 525.58 L263.57 525.77 L264.17 525.97 L264.76 526.16 L265.36 526.35 L265.95 526.54 L266.55 526.73 L267.14 526.92 L267.74 527.11 L268.33 527.29 L268.93 527.47 L269.52 527.65 L270.12 527.83 L270.71 528.01 L271.31 528.19 L271.9 528.36" fill="none" stroke="#000" stroke-width="1.45" stroke-linejoin="round" stroke-linecap="butt"/>
<path d="M91.8 397.35h0M95.88 403.13h0M99.96 408.82h0M104.04 414.85h0M108.12 420.81h0M112.2 426.59h0M116.28 432.17h0M120.36 437.99h0M124.44 443.6h0M128.52 448.58h0M132.6 453.37h0M136.68 458.16h0M140.76 462.96h0M144.84 467.63h0M148.92 472.05h0M153 476.13h0M157.08 480.19h0M161.16 484.45h0M165.24 488.99h0M169.32 493.23h0M173.4 497.16h0M177.48 500.77h0M181.56 504.07h0M185.64 507.15h0M189.72 509.96h0M193.8 512.49h0M197.88 514.8h0M201.96 516.96h0M206.04 519.02h0M210.12 520.97h0M214.2 522.8h0M218.28 524.52h0M222.36 526.15h0M226.44 527.67h0" fill="none" stroke="#ff0d0d" stroke-width="2.44" stroke-linecap="round"/>
<path d="M170.8 417.8L158.6 400.7" stroke="#444" stroke-width="0.7" fill="none"/>
<path d="M157.0 398.4L161.2 401.3L158.9 402.9Z" fill="#333"/>
<text x="101.2" y="521.2" fill="#000" font-size="16" text-anchor="start">1.8 GPa</text>
<text x="160.2" y="429.3" fill="#1fa7ea" font-size="16" text-anchor="start">8 K</text>
<text x="197" y="424.2" fill="#168a16" font-size="16" text-anchor="start">10 K</text>
<text x="193.7" y="482.4" fill="#ff8c1a" font-size="16" text-anchor="start">20 K</text>
<text x="195.2" y="509.5" fill="#ff0d0d" font-size="16" text-anchor="start">30 K</text>
<text x="10.8" y="394" fill="#000" font-size="16" text-anchor="start">(e)</text>
<rect x="317.4" y="390.6" width="143.1" height="143.7" fill="none" stroke="#cfcfcf" stroke-width="1"/>
<path d="M337.5 534.3v-3 M337.5 390.6v3M358.1 534.3v-3 M358.1 390.6v3M378.7 534.3v-3 M378.7 390.6v3M399.3 534.3v-3 M399.3 390.6v3M419.9 534.3v-3 M419.9 390.6v3M440.5 534.3v-3 M440.5 390.6v3M461.1 534.3v-3 M461.1 390.6v3M317.4 423.55h2.3 M460.5 423.55h-2.3M317.4 456.2h2.3 M460.5 456.2h-2.3M317.4 488.85h2.3 M460.5 488.85h-2.3M317.4 521.5h2.3 M460.5 521.5h-2.3" fill="none" stroke="#cfcfcf" stroke-width="1"/>
<text x="316.9" y="547.3" fill="#000" font-size="16" text-anchor="middle">0</text>
<text x="358.1" y="547.3" fill="#000" font-size="16" text-anchor="middle">20</text>
<text x="399.3" y="547.3" fill="#000" font-size="16" text-anchor="middle">40</text>
<text x="440.5" y="547.3" fill="#000" font-size="16" text-anchor="middle">60</text>
<text x="313.8" y="392.4" fill="#000" font-size="16" text-anchor="end">0</text>
<text x="313.8" y="458.1" fill="#000" font-size="16" text-anchor="end">-0.001</text>
<text x="313.8" y="523.4" fill="#000" font-size="16" text-anchor="end">-0.002</text>
<text x="389.65" y="562.6" fill="#000" font-size="16" text-anchor="middle"><tspan font-style="italic">H</tspan> (kOe)</text>
<text transform="translate(265.7 464.3) rotate(-90)" font-size="16" text-anchor="middle" fill="#000"><tspan font-size="15" stroke="#000" stroke-width="0.35">σ</tspan><tspan font-size="11" dy="6.9" dx="1.0">xy</tspan><tspan dy="-6.9">(Ω</tspan><tspan font-size="11.5" dy="-6.6" dx="-0.5">-1</tspan><tspan dy="6.6" dx="0.5">cm</tspan><tspan font-size="11.5" dy="-6.6" dx="-0.5">-1</tspan><tspan dy="6.6" dx="0.5">)</tspan></text>
<path transform="scale(0.84 1)" d="M380.12 392.6 L380.71 393 L381.31 393.38 L381.9 393.74 L382.5 394.07 L383.1 394.39 L383.69 394.69 L384.29 394.99 L384.88 395.27 L385.48 395.53 L386.07 395.75 L386.67 395.93 L387.26 396.1 L387.86 396.27 L388.45 396.43 L389.05 396.59 L389.64 396.74 L390.24 396.88 L390.83 397.01 L391.43 397.13 L392.02 397.22 L392.62 397.3 L393.21 397.36 L393.81 397.39 L394.4 397.4 L395 397.4 L395.6 397.4 L396.19 397.39 L396.79 397.39 L397.38 397.38 L397.98 397.37 L398.57 397.37 L399.17 397.36 L399.76 397.35 L400.36 397.33 L400.95 397.32 L401.55 397.31 L402.14 397.3 L402.74 397.28 L403.33 397.27 L403.93 397.25 L404.52 397.24 L405.12 397.22 L405.71 397.2 L406.31 397.19 L406.9 397.16 L407.5 397.13 L408.1 397.1 L408.69 397.06 L409.29 397.02 L409.88 396.98 L410.48 396.93 L411.07 396.88 L411.67 396.83 L412.26 396.78 L412.86 396.73 L413.45 396.67 L414.05 396.61 L414.64 396.56 L415.24 396.5 L415.83 396.44 L416.43 396.39 L417.02 396.33 L417.62 396.28 L418.21 396.22 L418.81 396.18 L419.4 396.13 L420 396.08 L420.6 396.04 L421.19 396.01 L421.79 395.97 L422.38 395.94 L422.98 395.9 L423.57 395.87 L424.17 395.84 L424.76 395.8 L425.36 395.77 L425.95 395.74 L426.55 395.7 L427.14 395.67 L427.74 395.64 L428.33 395.61 L428.93 395.58 L429.52 395.55 L430.12 395.52 L430.71 395.5 L431.31 395.47 L431.9 395.44 L432.5 395.42 L433.1 395.4 L433.69 395.38 L434.29 395.36 L434.88 395.34 L435.48 395.33 L436.07 395.31 L436.67 395.3 L437.26 395.29 L437.86 395.28 L438.45 395.27 L439.05 395.26 L439.64 395.25 L440.24 395.24 L440.83 395.23 L441.43 395.22 L442.02 395.21 L442.62 395.2 L443.21 395.19 L443.81 395.19 L444.4 395.18 L445 395.17 L445.6 395.16 L446.19 395.16 L446.79 395.15 L447.38 395.14 L447.98 395.13 L448.57 395.13 L449.17 395.12 L449.76 395.12 L450.36 395.11 L450.95 395.1 L451.55 395.1 L452.14 395.09 L452.74 395.09 L453.33 395.08 L453.93 395.08 L454.52 395.07 L455.12 395.07 L455.71 395.06 L456.31 395.06 L456.9 395.05 L457.5 395.05 L458.1 395.04 L458.69 395.04 L459.29 395.03 L459.88 395.03 L460.48 395.02 L461.07 395.02 L461.67 395.02 L462.26 395.01 L462.86 395.01 L463.45 395 L464.05 395 L464.64 394.99 L465.24 394.99 L465.83 394.98 L466.43 394.98 L467.02 394.98 L467.62 394.97 L468.21 394.97 L468.81 394.96 L469.4 394.96 L470 394.95 L470.6 394.95 L471.19 394.95 L471.79 394.94 L472.38 394.94 L472.98 394.93 L473.57 394.93 L474.17 394.93 L474.76 394.92 L475.36 394.92 L475.95 394.92 L476.55 394.91 L477.14 394.91 L477.74 394.9 L478.33 394.9 L478.93 394.9 L479.52 394.89 L480.12 394.89 L480.71 394.89 L481.31 394.88 L481.9 394.88 L482.5 394.88 L483.1 394.87 L483.69 394.87 L484.29 394.87 L484.88 394.86 L485.48 394.86 L486.07 394.86 L486.67 394.85 L487.26 394.85 L487.86 394.85 L488.45 394.85 L489.05 394.84 L489.64 394.84 L490.24 394.84 L490.83 394.84 L491.43 394.83 L492.02 394.83 L492.62 394.83 L493.21 394.82 L493.81 394.82 L494.4 394.82 L495 394.82 L495.6 394.82 L496.19 394.81 L496.79 394.81 L497.38 394.81 L497.98 394.81 L498.57 394.8 L499.17 394.8 L499.76 394.8 L500.36 394.8 L500.95 394.8 L501.55 394.8 L502.14 394.79 L502.74 394.79 L503.33 394.79 L503.93 394.79 L504.52 394.79 L505.12 394.78 L505.71 394.78 L506.31 394.78 L506.9 394.78 L507.5 394.78 L508.1 394.77 L508.69 394.77 L509.29 394.77 L509.88 394.77 L510.48 394.77 L511.07 394.77 L511.67 394.76 L512.26 394.76 L512.86 394.76 L513.45 394.76 L514.05 394.76 L514.64 394.76 L515.24 394.75 L515.83 394.75 L516.43 394.75 L517.02 394.75 L517.62 394.75 L518.21 394.75 L518.81 394.74 L519.4 394.74 L520 394.74 L520.6 394.74 L521.19 394.74 L521.79 394.74 L522.38 394.74 L522.98 394.73 L523.57 394.73 L524.17 394.73 L524.76 394.73 L525.36 394.73 L525.95 394.73 L526.55 394.73 L527.14 394.72 L527.74 394.72 L528.33 394.72 L528.93 394.72 L529.52 394.72 L530.12 394.72 L530.71 394.72 L531.31 394.72 L531.9 394.71 L532.5 394.71 L533.1 394.71 L533.69 394.71 L534.29 394.71 L534.88 394.71 L535.48 394.71 L536.07 394.71 L536.67 394.71 L537.26 394.71 L537.86 394.71 L538.45 394.71 L539.05 394.7 L539.64 394.7 L540.24 394.7 L540.83 394.7 L541.43 394.7 L542.02 394.7 L542.62 394.7 L543.21 394.7 L543.81 394.7 L544.4 394.7 L545 394.7 L545.6 394.7" fill="none" stroke="#222" stroke-width="1.45" stroke-linejoin="round" stroke-linecap="butt"/>
<path transform="scale(0.84 1)" d="M380 425.1 L380.6 432.83 L381.19 440.48 L381.79 448.11 L382.38 455.67 L382.98 462.84 L383.57 469.95 L384.17 476.57 L384.76 482.11 L385.36 486.83 L385.95 491.08 L386.55 494.95 L387.14 498.49 L387.74 501.8 L388.33 504.93 L388.93 507.86 L389.52 510.56 L390.12 512.99 L390.71 515.14 L391.31 517.21 L391.9 519.14 L392.5 520.79 L393.1 522.04 L393.69 522.86 L394.29 523.59 L394.88 524.23 L395.48 524.74 L396.07 525.08 L396.67 525.2 L397.26 525.15 L397.86 525 L398.45 524.76 L399.05 524.46 L399.64 524.11 L400.24 523.73 L400.83 523.31 L401.43 522.71 L402.02 521.9 L402.62 520.92 L403.21 519.83 L403.81 518.69 L404.4 517.56 L405 516.49 L405.6 515.42 L406.19 514.31 L406.79 513.17 L407.38 512 L407.98 510.82 L408.57 509.63 L409.17 508.44 L409.76 507.26 L410.36 506.09 L410.95 504.94 L411.55 503.79 L412.14 502.63 L412.74 501.47 L413.33 500.31 L413.93 499.16 L414.52 498.02 L415.12 496.89 L415.71 495.79 L416.31 494.71 L416.9 493.66 L417.5 492.61 L418.1 491.58 L418.69 490.56 L419.29 489.55 L419.88 488.56 L420.48 487.57 L421.07 486.6 L421.67 485.64 L422.26 484.69 L422.86 483.75 L423.45 482.83 L424.05 481.92 L424.64 481.02 L425.24 480.13 L425.83 479.25 L426.43 478.38 L427.02 477.52 L427.62 476.68 L428.21 475.84 L428.81 475.01 L429.4 474.2 L430 473.39 L430.6 472.59 L431.19 471.81 L431.79 471.04 L432.38 470.27 L432.98 469.52 L433.57 468.78 L434.17 468.05 L434.76 467.32 L435.36 466.61 L435.95 465.9 L436.55 465.2 L437.14 464.51 L437.74 463.82 L438.33 463.14 L438.93 462.47 L439.52 461.79 L440.12 461.12 L440.71 460.45 L441.31 459.79 L441.9 459.14 L442.5 458.49 L443.1 457.85 L443.69 457.22 L444.29 456.6 L444.88 456 L445.48 455.4 L446.07 454.83 L446.67 454.26 L447.26 453.71 L447.86 453.16 L448.45 452.61 L449.05 452.08 L449.64 451.55 L450.24 451.02 L450.83 450.51 L451.43 450 L452.02 449.51 L452.62 449.02 L453.21 448.55 L453.81 448.08 L454.4 447.63 L455 447.18 L455.6 446.75 L456.19 446.33 L456.79 445.93 L457.38 445.54 L457.98 445.16 L458.57 444.79 L459.17 444.43 L459.76 444.08 L460.36 443.73 L460.95 443.39 L461.55 443.04 L462.14 442.7 L462.74 442.36 L463.33 442.01 L463.93 441.66 L464.52 441.31 L465.12 440.96 L465.71 440.61 L466.31 440.27 L466.9 439.92 L467.5 439.58 L468.1 439.24 L468.69 438.9 L469.29 438.56 L469.88 438.22 L470.48 437.88 L471.07 437.55 L471.67 437.21 L472.26 436.87 L472.86 436.54 L473.45 436.2 L474.05 435.86 L474.64 435.52 L475.24 435.18 L475.83 434.84 L476.43 434.49 L477.02 434.14 L477.62 433.8 L478.21 433.46 L478.81 433.11 L479.4 432.77 L480 432.43 L480.6 432.1 L481.19 431.77 L481.79 431.45 L482.38 431.13 L482.98 430.81 L483.57 430.51 L484.17 430.21 L484.76 429.91 L485.36 429.63 L485.95 429.35 L486.55 429.07 L487.14 428.8 L487.74 428.53 L488.33 428.26 L488.93 427.99 L489.52 427.73 L490.12 427.47 L490.71 427.21 L491.31 426.96 L491.9 426.71 L492.5 426.46 L493.1 426.22 L493.69 425.97 L494.29 425.73 L494.88 425.5 L495.48 425.26 L496.07 425.03 L496.67 424.8 L497.26 424.58 L497.86 424.35 L498.45 424.13 L499.05 423.91 L499.64 423.7 L500.24 423.48 L500.83 423.27 L501.43 423.07 L502.02 422.86 L502.62 422.65 L503.21 422.45 L503.81 422.25 L504.4 422.06 L505 421.86 L505.6 421.67 L506.19 421.48 L506.79 421.29 L507.38 421.1 L507.98 420.91 L508.57 420.73 L509.17 420.55 L509.76 420.37 L510.36 420.19 L510.95 420.01 L511.55 419.84 L512.14 419.67 L512.74 419.49 L513.33 419.33 L513.93 419.16 L514.52 418.99 L515.12 418.83 L515.71 418.66 L516.31 418.5 L516.9 418.34 L517.5 418.18 L518.1 418.03 L518.69 417.87 L519.29 417.71 L519.88 417.56 L520.48 417.4 L521.07 417.25 L521.67 417.1 L522.26 416.95 L522.86 416.8 L523.45 416.66 L524.05 416.51 L524.64 416.37 L525.24 416.23 L525.83 416.09 L526.43 415.95 L527.02 415.81 L527.62 415.68 L528.21 415.55 L528.81 415.42 L529.4 415.29 L530 415.17 L530.6 415.04 L531.19 414.92 L531.79 414.81 L532.38 414.69 L532.98 414.57 L533.57 414.46 L534.17 414.34 L534.76 414.23 L535.36 414.12 L535.95 414.01 L536.55 413.9 L537.14 413.8 L537.74 413.69 L538.33 413.59 L538.93 413.48 L539.52 413.38 L540.12 413.28 L540.71 413.19 L541.31 413.09 L541.9 413 L542.5 412.9 L543.1 412.81 L543.69 412.72 L544.29 412.63 L544.88 412.55 L545.48 412.47" fill="none" stroke="#000" stroke-width="1.45" stroke-linejoin="round" stroke-linecap="butt"/>
<path d="M320.9 393.73h0M324.98 395.67h0M329.06 396.8h0M333.14 396.65h0M337.22 396.86h0M341.3 396.72h0M345.38 396.46h0M349.46 395.91h0M353.54 395.62h0M357.62 395.26h0M361.7 394.86h0M365.78 395.09h0M369.86 395h0M373.94 395.08h0M378.02 394.72h0M382.1 394.6h0M386.18 394.53h0M390.26 394.31h0M394.34 394.74h0M398.42 394.33h0M402.5 394.28h0M406.58 394.43h0M410.66 394.71h0M414.74 394.47h0M418.82 394.22h0M422.9 394.26h0M426.98 394.49h0M431.06 394.33h0M435.14 394.21h0M439.22 394.29h0M443.3 394.46h0M447.38 394.67h0M451.46 394.08h0M455.54 394.19h0" fill="none" stroke="#6a22e8" stroke-width="2.36" stroke-linecap="round"/>
<path d="M319.4 425.1h0M321.44 456.3h0M323.48 482.45h0M325.52 500.64h0M327.56 512.46h0M329.6 521.33h0M331.64 525.06h0M333.68 525.66h0M335.72 525.7h0M337.76 522.18h0M339.8 517.5h0M341.84 512.85h0M343.88 507.61h0M345.92 502.99h0M347.96 497.99h0M350 493.52h0M352.04 489.05h0M354.08 484.65h0M356.12 480.62h0M358.16 476.91h0M360.2 473.42h0M362.24 470.12h0M364.28 467.06h0M366.32 464.14h0M368.36 461.21h0M370.4 458.09h0M372.44 455.08h0M374.48 452.45h0M376.52 450h0M378.56 447.56h0M380.6 445.3h0M382.64 443.34h0M384.68 441.62h0M386.72 440.06h0M388.76 438.77h0M390.8 437.86h0M392.84 437.1h0M394.88 436.22h0M396.92 435.2h0M398.96 433.98h0M401 432.34h0M403.04 427.48h0M405.08 426h0M407.12 426.3h0M409.16 427.34h0M411.2 427.07h0M413.24 425.75h0M415.28 424.82h0M417.32 424.03h0M419.36 423.32h0M421.4 422.71h0M423.44 422.18h0M425.48 421.7h0M427.52 421.23h0M429.56 420.74h0M431.6 420.23h0M433.64 419.74h0M435.68 419.28h0M437.72 418.89h0M439.76 418.55h0M441.8 418.24h0M443.84 417.93h0M445.88 417.62h0M447.92 417.32h0M449.96 417.02h0M452 416.72h0M454.04 416.41h0M456.08 416.1h0M458.12 415.78h0" fill="none" stroke="#1010e0" stroke-width="2.26" stroke-linecap="round"/>
<text x="403.4" y="413.9" fill="#c24cdc" font-size="16" text-anchor="start">5 K</text>
<text x="434.1" y="439.8" fill="#1212cc" font-size="16" text-anchor="start">6 K</text>
<text x="395.5" y="521.6" fill="#000" font-size="16" text-anchor="start">1.8 GPa</text>
<text x="243.2" y="393.6" fill="#000" font-size="16" text-anchor="start">(f)</text>
</svg>
</body>
</html>
